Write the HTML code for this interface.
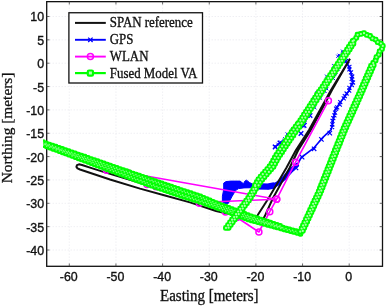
<!DOCTYPE html>
<html><head><meta charset="utf-8"><title>Trajectory plot</title>
<style>html,body{margin:0;padding:0;background:#fff;overflow:hidden}svg{display:block}</style>
</head><body>
<svg width="387" height="306" viewBox="0 0 387 306">
<rect x="0" y="0" width="387" height="306" fill="#fff"/>
<g stroke="#e2e2ea" stroke-width="0.8" stroke-dasharray="1 2" fill="none">
<line x1="69.30" y1="1.65" x2="69.30" y2="266.3"/>
<line x1="115.95" y1="1.65" x2="115.95" y2="266.3"/>
<line x1="162.60" y1="1.65" x2="162.60" y2="266.3"/>
<line x1="209.25" y1="1.65" x2="209.25" y2="266.3"/>
<line x1="255.90" y1="1.65" x2="255.90" y2="266.3"/>
<line x1="302.55" y1="1.65" x2="302.55" y2="266.3"/>
<line x1="349.20" y1="1.65" x2="349.20" y2="266.3"/>
<line x1="46.7" y1="250.00" x2="382.5" y2="250.00"/>
<line x1="46.7" y1="226.65" x2="382.5" y2="226.65"/>
<line x1="46.7" y1="203.30" x2="382.5" y2="203.30"/>
<line x1="46.7" y1="179.95" x2="382.5" y2="179.95"/>
<line x1="46.7" y1="156.60" x2="382.5" y2="156.60"/>
<line x1="46.7" y1="133.25" x2="382.5" y2="133.25"/>
<line x1="46.7" y1="109.90" x2="382.5" y2="109.90"/>
<line x1="46.7" y1="86.55" x2="382.5" y2="86.55"/>
<line x1="46.7" y1="63.20" x2="382.5" y2="63.20"/>
<line x1="46.7" y1="39.85" x2="382.5" y2="39.85"/>
<line x1="46.7" y1="16.50" x2="382.5" y2="16.50"/>
</g>
<clipPath id="c"><rect x="46.7" y="1.65" width="335.8" height="264.65000000000003"/></clipPath>
<clipPath id="c2"><rect x="43.1" y="1.6" width="343.6" height="264.7"/></clipPath>
<rect x="46.7" y="1.65" width="335.8" height="264.65000000000003" fill="none" stroke="#111" stroke-width="1.3"/>
<g stroke="#444" stroke-width="0.8">
<line x1="69.30" y1="266.3" x2="69.30" y2="263.5"/>
<line x1="69.30" y1="1.65" x2="69.30" y2="4.449999999999999"/>
<line x1="115.95" y1="266.3" x2="115.95" y2="263.5"/>
<line x1="115.95" y1="1.65" x2="115.95" y2="4.449999999999999"/>
<line x1="162.60" y1="266.3" x2="162.60" y2="263.5"/>
<line x1="162.60" y1="1.65" x2="162.60" y2="4.449999999999999"/>
<line x1="209.25" y1="266.3" x2="209.25" y2="263.5"/>
<line x1="209.25" y1="1.65" x2="209.25" y2="4.449999999999999"/>
<line x1="255.90" y1="266.3" x2="255.90" y2="263.5"/>
<line x1="255.90" y1="1.65" x2="255.90" y2="4.449999999999999"/>
<line x1="302.55" y1="266.3" x2="302.55" y2="263.5"/>
<line x1="302.55" y1="1.65" x2="302.55" y2="4.449999999999999"/>
<line x1="349.20" y1="266.3" x2="349.20" y2="263.5"/>
<line x1="349.20" y1="1.65" x2="349.20" y2="4.449999999999999"/>
<line x1="46.7" y1="250.00" x2="49.5" y2="250.00"/>
<line x1="382.5" y1="250.00" x2="379.7" y2="250.00"/>
<line x1="46.7" y1="226.65" x2="49.5" y2="226.65"/>
<line x1="382.5" y1="226.65" x2="379.7" y2="226.65"/>
<line x1="46.7" y1="203.30" x2="49.5" y2="203.30"/>
<line x1="382.5" y1="203.30" x2="379.7" y2="203.30"/>
<line x1="46.7" y1="179.95" x2="49.5" y2="179.95"/>
<line x1="382.5" y1="179.95" x2="379.7" y2="179.95"/>
<line x1="46.7" y1="156.60" x2="49.5" y2="156.60"/>
<line x1="382.5" y1="156.60" x2="379.7" y2="156.60"/>
<line x1="46.7" y1="133.25" x2="49.5" y2="133.25"/>
<line x1="382.5" y1="133.25" x2="379.7" y2="133.25"/>
<line x1="46.7" y1="109.90" x2="49.5" y2="109.90"/>
<line x1="382.5" y1="109.90" x2="379.7" y2="109.90"/>
<line x1="46.7" y1="86.55" x2="49.5" y2="86.55"/>
<line x1="382.5" y1="86.55" x2="379.7" y2="86.55"/>
<line x1="46.7" y1="63.20" x2="49.5" y2="63.20"/>
<line x1="382.5" y1="63.20" x2="379.7" y2="63.20"/>
<line x1="46.7" y1="39.85" x2="49.5" y2="39.85"/>
<line x1="382.5" y1="39.85" x2="379.7" y2="39.85"/>
<line x1="46.7" y1="16.50" x2="49.5" y2="16.50"/>
<line x1="382.5" y1="16.50" x2="379.7" y2="16.50"/>
</g>
<g clip-path="url(#c)">
<polyline points="345.0,51.0 341.0,57.0 332.2,74.0 321.6,90.0 311.0,107.0 300.0,125.0 293.0,134.0 287.0,139.0 281.0,142.0 274.8,146.7" fill="none" stroke="#0000ff" stroke-width="1.4"/>
<path d="M341.0,49.6L344.2,52.8M341.0,52.8L344.2,49.6M341.3,51.1L344.5,54.3M341.3,54.3L344.5,51.1M342.8,50.3L346.0,53.5M342.8,53.5L346.0,50.3M336.3,54.7L339.5,57.9M336.3,57.9L339.5,54.7M337.6,53.7L340.8,56.9M337.6,56.9L340.8,53.7M343.6,56.0L346.8,59.2M343.6,59.2L346.8,56.0M341.4,57.4L344.6,60.6M341.4,60.6L344.6,57.4M338.8,57.5L342.0,60.7M338.8,60.7L342.0,57.5M338.1,61.8L341.3,65.0M338.1,65.0L341.3,61.8M336.3,62.7L339.5,65.9M336.3,65.9L339.5,62.7M336.9,61.5L340.1,64.7M336.9,64.7L340.1,61.5M337.0,65.0L340.2,68.2M337.0,68.2L340.2,65.0M332.1,64.2L335.3,67.4M332.1,67.4L335.3,64.2M336.5,67.4L339.7,70.6M336.5,70.6L339.7,67.4M334.4,70.4L337.6,73.6M334.4,73.6L337.6,70.4M333.7,72.0L336.9,75.2M333.7,75.2L336.9,72.0M330.0,72.9L333.2,76.1M330.0,76.1L333.2,72.9M329.6,74.8L332.8,78.0M329.6,78.0L332.8,74.8M332.7,72.8L335.9,76.0M332.7,76.0L335.9,72.8M325.0,74.6L328.2,77.8M325.0,77.8L328.2,74.6M331.8,76.9L335.0,80.1M331.8,80.1L335.0,76.9M327.6,77.6L330.8,80.8M327.6,80.8L330.8,77.6M325.8,79.3L329.0,82.5M325.8,82.5L329.0,79.3M323.7,81.4L326.9,84.6M323.7,84.6L326.9,81.4M324.6,84.1L327.8,87.3M324.6,87.3L327.8,84.1M324.5,85.5L327.7,88.7M324.5,88.7L327.7,85.5M325.0,87.1L328.2,90.3M325.0,90.3L328.2,87.1M322.6,85.1L325.8,88.3M322.6,88.3L325.8,85.1M323.2,89.6L326.4,92.8M323.2,92.8L326.4,89.6M322.7,89.4L325.9,92.6M322.7,92.6L325.9,89.4M320.4,89.3L323.6,92.5M320.4,92.5L323.6,89.3M320.4,92.1L323.6,95.3M320.4,95.3L323.6,92.1M315.3,91.5L318.5,94.7M315.3,94.7L318.5,91.5M318.9,96.5L322.1,99.7M318.9,99.7L322.1,96.5M312.1,97.1L315.3,100.3M312.1,100.3L315.3,97.1M313.8,95.9L317.0,99.1M313.8,99.1L317.0,95.9M312.0,99.7L315.2,102.9M312.0,102.9L315.2,99.7M315.7,98.2L318.9,101.4M315.7,101.4L318.9,98.2M312.8,99.5L316.0,102.7M312.8,102.7L316.0,99.5M312.8,102.0L316.0,105.2M312.8,105.2L316.0,102.0M313.2,106.0L316.4,109.2M313.2,109.2L316.4,106.0M309.4,107.4L312.6,110.6M309.4,110.6L312.6,107.4M307.1,105.1L310.3,108.3M307.1,108.3L310.3,105.1M308.5,106.3L311.7,109.5M308.5,109.5L311.7,106.3M304.5,109.1L307.7,112.3M304.5,112.3L307.7,109.1M306.9,109.5L310.1,112.7M306.9,112.7L310.1,109.5M301.6,113.7L304.8,116.9M301.6,116.9L304.8,113.7M302.9,115.4L306.1,118.6M302.9,118.6L306.1,115.4M306.7,114.5L309.9,117.7M306.7,117.7L309.9,114.5M302.4,116.4L305.6,119.6M302.4,119.6L305.6,116.4M303.0,118.1L306.2,121.3M303.0,121.3L306.2,118.1M301.5,119.5L304.7,122.7M301.5,122.7L304.7,119.5M303.7,120.5L306.9,123.7M303.7,123.7L306.9,120.5M298.8,122.7L302.0,125.9M298.8,125.9L302.0,122.7M296.5,122.4L299.7,125.6M296.5,125.6L299.7,122.4M301.3,124.5L304.5,127.7M301.3,127.7L304.5,124.5M297.0,123.8L300.2,127.0M297.0,127.0L300.2,123.8M295.0,127.3L298.2,130.5M295.0,130.5L298.2,127.3M290.9,128.7L294.1,131.9M290.9,131.9L294.1,128.7M294.7,127.7L297.9,130.9M294.7,130.9L297.9,127.7M293.7,130.6L296.9,133.8M293.7,133.8L296.9,130.6M293.1,131.4L296.3,134.6M293.1,134.6L296.3,131.4M292.2,134.1L295.4,137.3M292.2,137.3L295.4,134.1M285.6,132.4L288.8,135.6M285.6,135.6L288.8,132.4M289.5,137.0L292.7,140.2M289.5,140.2L292.7,137.0M284.9,136.0L288.1,139.2M284.9,139.2L288.1,136.0M286.3,136.5L289.5,139.7M286.3,139.7L289.5,136.5M283.2,137.2L286.4,140.4M283.2,140.4L286.4,137.2M285.4,137.4L288.6,140.6M285.4,140.6L288.6,137.4M282.3,139.0L285.5,142.2M282.3,142.2L285.5,139.0M279.2,140.6L282.4,143.8M279.2,143.8L282.4,140.6M276.4,142.7L279.6,145.9M276.4,145.9L279.6,142.7M273.6,144.8L276.8,148.0M273.6,148.0L276.8,144.8" stroke="#0000ff" stroke-width="1.0" fill="none"/>
<polyline points="285.0,140.5 280.0,143.0 275.2,147.0" fill="none" stroke="#0000ff" stroke-width="1.4"/>
<path d="M298.7,131.2L303.3,135.8M298.7,135.8L303.3,131.2M301.7,123.2L306.3,127.8M301.7,127.8L306.3,123.2M307.7,113.2L312.3,117.8M307.7,117.8L312.3,113.2M277.7,140.7L282.3,145.3M277.7,145.3L282.3,140.7M272.9,144.7L277.5,149.3M272.9,149.3L277.5,144.7" stroke="#0000ff" stroke-width="1.4" fill="none"/>
<polyline points="341.0,57.0 347.5,63.6 351.4,74.0 352.7,81.9 348.8,91.0 341.0,101.5 335.2,109.4 333.6,118.5 331.2,129.6 322.9,137.4 313.6,148.2 301.2,157.5 295.6,168.0 287.1,176.7 279.2,183.0 271.4,186.9 255.7,186.9 246.0,184.0" fill="none" stroke="#0000ff" stroke-width="1.6"/>
<path d="M338.7,54.7L342.7,58.7M338.7,58.7L342.7,54.7M341.8,57.2L345.8,61.2M341.8,61.2L345.8,57.2M344.1,59.0L348.1,63.0M344.1,63.0L348.1,59.0M345.4,62.2L349.4,66.2M345.4,66.2L349.4,62.2M347.4,64.8L351.4,68.8M347.4,68.8L351.4,64.8M347.4,67.3L351.4,71.3M347.4,71.3L351.4,67.3M349.0,70.4L353.0,74.4M349.0,74.4L353.0,70.4M350.2,74.5L354.2,78.5M350.2,78.5L354.2,74.5M349.7,76.8L353.7,80.8M349.7,80.8L353.7,76.8M351.0,80.5L355.0,84.5M351.0,84.5L355.0,80.5M349.8,83.0L353.8,87.0M349.8,87.0L353.8,83.0M347.4,85.8L351.4,89.8M347.4,89.8L351.4,85.8M347.2,88.7L351.2,92.7M347.2,92.7L351.2,88.7M344.6,91.5L348.6,95.5M344.6,95.5L348.6,91.5M342.8,94.1L346.8,98.1M342.8,98.1L346.8,94.1M341.7,96.3L345.7,100.3M341.7,100.3L345.7,96.3M338.3,100.1L342.3,104.1M338.3,104.1L342.3,100.1M337.8,102.7L341.8,106.7M337.8,106.7L341.8,102.7M335.2,105.3L339.2,109.3M335.2,109.3L339.2,105.3M334.1,106.7L338.1,110.7M334.1,110.7L338.1,106.7M333.1,110.7L337.1,114.7M333.1,114.7L337.1,110.7M332.4,113.4L336.4,117.4M332.4,117.4L336.4,113.4M331.3,116.2L335.3,120.2M331.3,120.2L335.3,116.2M330.5,118.9L334.5,122.9M330.5,122.9L334.5,118.9M330.4,122.4L334.4,126.4M330.4,126.4L334.4,122.4M330.1,125.2L334.1,129.2M330.1,129.2L334.1,125.2" stroke="#0000ff" stroke-width="1.1" fill="none"/>
<path d="M327.6,130.9L332.0,135.3M327.6,135.3L332.0,130.9M319.2,137.2L323.6,141.6M319.2,141.6L323.6,137.2M311.9,146.6L316.3,151.0M311.9,151.0L316.3,146.6M299.9,155.0L304.3,159.4M299.9,159.4L304.3,155.0M293.8,165.8L298.2,170.2M293.8,170.2L298.2,165.8" stroke="#0000ff" stroke-width="1.2" fill="none"/>
<polyline points="255.0,186.2 268.0,186.6 273.0,185.6" fill="none" stroke="#0000ff" stroke-width="6.4" stroke-linejoin="round" stroke-linecap="round"/>
<polyline points="268.0,187.0 274.0,185.8 279.0,182.6 284.5,177.8 290.5,170.5 296.8,165.2" fill="none" stroke="#0000ff" stroke-width="4.6" stroke-linejoin="round" stroke-linecap="round"/>
<polygon points="223.7,183.1 226.0,181.6 230.9,181.1 240.1,181.1 243.4,183.7 245.0,181.0 246.6,180.2 249.3,182.4 252.5,184.1 256.0,185.0 256.0,188.0 252.5,187.7 244.0,187.9 238.5,188.6 235.5,190.6 232.0,196.5 228.3,203.4 225.0,203.5 222.4,202.1 222.4,196.2 223.7,189.6" fill="#0000ff" stroke="#0000ff" stroke-width="1" stroke-linejoin="round"/>
</g>
<polyline clip-path="url(#c)" points="350.0,58.8 331.0,90.0 309.0,130.0 296.0,150.0 286.3,168.0 268.7,198.0 257.6,215.2 256.0,217.5 240.0,213.0 200.0,201.0 150.0,185.8 105.0,172.4 92.4,168.4 82.0,165.0 79.0,164.3 77.0,165.2 76.4,166.8 77.5,168.3 80.0,169.5 110.0,179.5 140.0,188.6 165.0,195.5 190.0,202.4 216.0,211.0 240.0,216.5 262.0,221.5 265.2,215.2 273.0,198.0 289.5,168.0 298.3,150.0 310.8,130.0 332.0,90.0 350.0,58.8" fill="none" stroke="#111" stroke-width="2" stroke-linejoin="round"/>
<g clip-path="url(#c)">
<polyline points="328.4,100.8 295.6,162.2 276.7,199.2 128.0,172.7 106.5,170.3 147.0,184.4 156.0,186.8 199.4,203.3 210.0,202.0 276.7,199.2 269.8,211.7 258.9,232.0 237.0,217.5 225.5,212.0" fill="none" stroke="#ff00ff" stroke-width="1.6" stroke-linejoin="round"/>
<circle cx="328.4" cy="100.8" r="3" fill="none" stroke="#ff00ff" stroke-width="1.5"/>
<circle cx="295.6" cy="162.2" r="3" fill="none" stroke="#ff00ff" stroke-width="1.5"/>
<circle cx="276.7" cy="199.2" r="3" fill="none" stroke="#ff00ff" stroke-width="1.5"/>
<circle cx="128.0" cy="172.7" r="3" fill="none" stroke="#ff00ff" stroke-width="1.5"/>
<circle cx="106.5" cy="170.3" r="3" fill="none" stroke="#ff00ff" stroke-width="1.5"/>
<circle cx="147.0" cy="184.4" r="3" fill="none" stroke="#ff00ff" stroke-width="1.5"/>
<circle cx="156.0" cy="186.8" r="3" fill="none" stroke="#ff00ff" stroke-width="1.5"/>
<circle cx="199.4" cy="203.3" r="3" fill="none" stroke="#ff00ff" stroke-width="1.5"/>
<circle cx="210.0" cy="202.0" r="3" fill="none" stroke="#ff00ff" stroke-width="1.5"/>
<circle cx="276.7" cy="199.2" r="3" fill="none" stroke="#ff00ff" stroke-width="1.5"/>
<circle cx="269.8" cy="211.7" r="3" fill="none" stroke="#ff00ff" stroke-width="1.5"/>
<circle cx="258.9" cy="232.0" r="3" fill="none" stroke="#ff00ff" stroke-width="1.5"/>
<circle cx="237.0" cy="217.5" r="3" fill="none" stroke="#ff00ff" stroke-width="1.5"/>
<circle cx="225.5" cy="212.0" r="3" fill="none" stroke="#ff00ff" stroke-width="1.5"/>
</g>
<g clip-path="url(#c2)">
<polyline points="281.2,227.6 249.8,217.3 214.8,204.0 199.8,197.6 179.8,190.9 149.8,180.7 139.8,177.3 46.8,145.0 39.8,142.4" fill="none" stroke="#00ff00" stroke-width="1.8" stroke-linejoin="round"/>
<rect x="279.3" y="225.7" width="3.9" height="3.9" rx="1.2" fill="#00ff00" stroke="#00ff00" stroke-width="1.9"/>
<rect x="276.0" y="224.6" width="3.9" height="3.9" rx="1.2" fill="#00ff00" stroke="#00ff00" stroke-width="1.9"/>
<rect x="272.8" y="223.5" width="3.9" height="3.9" rx="1.2" fill="#00ff00" stroke="#00ff00" stroke-width="1.9"/>
<rect x="269.6" y="222.5" width="3.9" height="3.9" rx="1.2" fill="#00ff00" stroke="#00ff00" stroke-width="1.9"/>
<rect x="266.3" y="221.4" width="3.9" height="3.9" rx="1.2" fill="#00ff00" stroke="#00ff00" stroke-width="1.9"/>
<rect x="263.1" y="220.3" width="3.9" height="3.9" rx="1.2" fill="#00ff00" stroke="#00ff00" stroke-width="1.9"/>
<rect x="259.9" y="219.3" width="3.9" height="3.9" rx="1.2" fill="#00ff00" stroke="#00ff00" stroke-width="1.9"/>
<rect x="256.7" y="218.2" width="3.9" height="3.9" rx="1.2" fill="#00ff00" stroke="#00ff00" stroke-width="1.9"/>
<rect x="253.4" y="217.2" width="3.9" height="3.9" rx="1.2" fill="#00ff00" stroke="#00ff00" stroke-width="1.9"/>
<rect x="250.2" y="216.1" width="3.9" height="3.9" rx="1.2" fill="#00ff00" stroke="#00ff00" stroke-width="1.9"/>
<rect x="247.0" y="215.0" width="3.9" height="3.9" rx="1.2" fill="#00ff00" stroke="#00ff00" stroke-width="1.9"/>
<rect x="243.8" y="213.8" width="3.9" height="3.9" rx="1.2" fill="#00ff00" stroke="#00ff00" stroke-width="1.9"/>
<rect x="240.6" y="212.6" width="3.9" height="3.9" rx="1.2" fill="#00ff00" stroke="#00ff00" stroke-width="1.9"/>
<rect x="237.5" y="211.4" width="3.9" height="3.9" rx="1.2" fill="#00ff00" stroke="#00ff00" stroke-width="1.9"/>
<rect x="234.3" y="210.2" width="3.9" height="3.9" rx="1.2" fill="#00ff00" stroke="#00ff00" stroke-width="1.9"/>
<rect x="231.1" y="208.9" width="3.9" height="3.9" rx="1.2" fill="#00ff00" stroke="#00ff00" stroke-width="1.9"/>
<rect x="227.9" y="207.7" width="3.9" height="3.9" rx="1.2" fill="#00ff00" stroke="#00ff00" stroke-width="1.9"/>
<rect x="224.7" y="206.5" width="3.9" height="3.9" rx="1.2" fill="#00ff00" stroke="#00ff00" stroke-width="1.9"/>
<rect x="221.6" y="205.3" width="3.9" height="3.9" rx="1.2" fill="#00ff00" stroke="#00ff00" stroke-width="1.9"/>
<rect x="218.4" y="204.1" width="3.9" height="3.9" rx="1.2" fill="#00ff00" stroke="#00ff00" stroke-width="1.9"/>
<rect x="215.2" y="202.9" width="3.9" height="3.9" rx="1.2" fill="#00ff00" stroke="#00ff00" stroke-width="1.9"/>
<rect x="212.0" y="201.7" width="3.9" height="3.9" rx="1.2" fill="#00ff00" stroke="#00ff00" stroke-width="1.9"/>
<rect x="208.9" y="200.3" width="3.9" height="3.9" rx="1.2" fill="#00ff00" stroke="#00ff00" stroke-width="1.9"/>
<rect x="205.8" y="199.0" width="3.9" height="3.9" rx="1.2" fill="#00ff00" stroke="#00ff00" stroke-width="1.9"/>
<rect x="202.7" y="197.7" width="3.9" height="3.9" rx="1.2" fill="#00ff00" stroke="#00ff00" stroke-width="1.9"/>
<rect x="199.5" y="196.3" width="3.9" height="3.9" rx="1.2" fill="#00ff00" stroke="#00ff00" stroke-width="1.9"/>
<rect x="196.4" y="195.1" width="3.9" height="3.9" rx="1.2" fill="#00ff00" stroke="#00ff00" stroke-width="1.9"/>
<rect x="193.1" y="194.0" width="3.9" height="3.9" rx="1.2" fill="#00ff00" stroke="#00ff00" stroke-width="1.9"/>
<rect x="189.9" y="193.0" width="3.9" height="3.9" rx="1.2" fill="#00ff00" stroke="#00ff00" stroke-width="1.9"/>
<rect x="186.7" y="191.9" width="3.9" height="3.9" rx="1.2" fill="#00ff00" stroke="#00ff00" stroke-width="1.9"/>
<rect x="183.4" y="190.8" width="3.9" height="3.9" rx="1.2" fill="#00ff00" stroke="#00ff00" stroke-width="1.9"/>
<rect x="180.2" y="189.8" width="3.9" height="3.9" rx="1.2" fill="#00ff00" stroke="#00ff00" stroke-width="1.9"/>
<rect x="177.0" y="188.7" width="3.9" height="3.9" rx="1.2" fill="#00ff00" stroke="#00ff00" stroke-width="1.9"/>
<rect x="173.8" y="187.6" width="3.9" height="3.9" rx="1.2" fill="#00ff00" stroke="#00ff00" stroke-width="1.9"/>
<rect x="170.6" y="186.5" width="3.9" height="3.9" rx="1.2" fill="#00ff00" stroke="#00ff00" stroke-width="1.9"/>
<rect x="167.3" y="185.4" width="3.9" height="3.9" rx="1.2" fill="#00ff00" stroke="#00ff00" stroke-width="1.9"/>
<rect x="164.1" y="184.3" width="3.9" height="3.9" rx="1.2" fill="#00ff00" stroke="#00ff00" stroke-width="1.9"/>
<rect x="160.9" y="183.2" width="3.9" height="3.9" rx="1.2" fill="#00ff00" stroke="#00ff00" stroke-width="1.9"/>
<rect x="157.7" y="182.1" width="3.9" height="3.9" rx="1.2" fill="#00ff00" stroke="#00ff00" stroke-width="1.9"/>
<rect x="154.5" y="181.0" width="3.9" height="3.9" rx="1.2" fill="#00ff00" stroke="#00ff00" stroke-width="1.9"/>
<rect x="151.2" y="179.9" width="3.9" height="3.9" rx="1.2" fill="#00ff00" stroke="#00ff00" stroke-width="1.9"/>
<rect x="148.0" y="178.8" width="3.9" height="3.9" rx="1.2" fill="#00ff00" stroke="#00ff00" stroke-width="1.9"/>
<rect x="144.8" y="177.7" width="3.9" height="3.9" rx="1.2" fill="#00ff00" stroke="#00ff00" stroke-width="1.9"/>
<rect x="141.6" y="176.6" width="3.9" height="3.9" rx="1.2" fill="#00ff00" stroke="#00ff00" stroke-width="1.9"/>
<rect x="138.4" y="175.5" width="3.9" height="3.9" rx="1.2" fill="#00ff00" stroke="#00ff00" stroke-width="1.9"/>
<rect x="135.2" y="174.4" width="3.9" height="3.9" rx="1.2" fill="#00ff00" stroke="#00ff00" stroke-width="1.9"/>
<rect x="132.0" y="173.3" width="3.9" height="3.9" rx="1.2" fill="#00ff00" stroke="#00ff00" stroke-width="1.9"/>
<rect x="128.7" y="172.2" width="3.9" height="3.9" rx="1.2" fill="#00ff00" stroke="#00ff00" stroke-width="1.9"/>
<rect x="125.5" y="171.0" width="3.9" height="3.9" rx="1.2" fill="#00ff00" stroke="#00ff00" stroke-width="1.9"/>
<rect x="122.3" y="169.9" width="3.9" height="3.9" rx="1.2" fill="#00ff00" stroke="#00ff00" stroke-width="1.9"/>
<rect x="119.1" y="168.8" width="3.9" height="3.9" rx="1.2" fill="#00ff00" stroke="#00ff00" stroke-width="1.9"/>
<rect x="115.9" y="167.7" width="3.9" height="3.9" rx="1.2" fill="#00ff00" stroke="#00ff00" stroke-width="1.9"/>
<rect x="112.7" y="166.6" width="3.9" height="3.9" rx="1.2" fill="#00ff00" stroke="#00ff00" stroke-width="1.9"/>
<rect x="109.5" y="165.5" width="3.9" height="3.9" rx="1.2" fill="#00ff00" stroke="#00ff00" stroke-width="1.9"/>
<rect x="106.3" y="164.3" width="3.9" height="3.9" rx="1.2" fill="#00ff00" stroke="#00ff00" stroke-width="1.9"/>
<rect x="103.1" y="163.2" width="3.9" height="3.9" rx="1.2" fill="#00ff00" stroke="#00ff00" stroke-width="1.9"/>
<rect x="99.8" y="162.1" width="3.9" height="3.9" rx="1.2" fill="#00ff00" stroke="#00ff00" stroke-width="1.9"/>
<rect x="96.6" y="161.0" width="3.9" height="3.9" rx="1.2" fill="#00ff00" stroke="#00ff00" stroke-width="1.9"/>
<rect x="93.4" y="159.9" width="3.9" height="3.9" rx="1.2" fill="#00ff00" stroke="#00ff00" stroke-width="1.9"/>
<rect x="90.2" y="158.8" width="3.9" height="3.9" rx="1.2" fill="#00ff00" stroke="#00ff00" stroke-width="1.9"/>
<rect x="87.0" y="157.7" width="3.9" height="3.9" rx="1.2" fill="#00ff00" stroke="#00ff00" stroke-width="1.9"/>
<rect x="83.8" y="156.5" width="3.9" height="3.9" rx="1.2" fill="#00ff00" stroke="#00ff00" stroke-width="1.9"/>
<rect x="80.6" y="155.4" width="3.9" height="3.9" rx="1.2" fill="#00ff00" stroke="#00ff00" stroke-width="1.9"/>
<rect x="77.4" y="154.3" width="3.9" height="3.9" rx="1.2" fill="#00ff00" stroke="#00ff00" stroke-width="1.9"/>
<rect x="74.1" y="153.2" width="3.9" height="3.9" rx="1.2" fill="#00ff00" stroke="#00ff00" stroke-width="1.9"/>
<rect x="70.9" y="152.1" width="3.9" height="3.9" rx="1.2" fill="#00ff00" stroke="#00ff00" stroke-width="1.9"/>
<rect x="67.7" y="151.0" width="3.9" height="3.9" rx="1.2" fill="#00ff00" stroke="#00ff00" stroke-width="1.9"/>
<rect x="64.5" y="149.8" width="3.9" height="3.9" rx="1.2" fill="#00ff00" stroke="#00ff00" stroke-width="1.9"/>
<rect x="61.3" y="148.7" width="3.9" height="3.9" rx="1.2" fill="#00ff00" stroke="#00ff00" stroke-width="1.9"/>
<rect x="58.1" y="147.6" width="3.9" height="3.9" rx="1.2" fill="#00ff00" stroke="#00ff00" stroke-width="1.9"/>
<rect x="54.9" y="146.5" width="3.9" height="3.9" rx="1.2" fill="#00ff00" stroke="#00ff00" stroke-width="1.9"/>
<rect x="51.7" y="145.4" width="3.9" height="3.9" rx="1.2" fill="#00ff00" stroke="#00ff00" stroke-width="1.9"/>
<rect x="48.5" y="144.3" width="3.9" height="3.9" rx="1.2" fill="#00ff00" stroke="#00ff00" stroke-width="1.9"/>
<rect x="45.2" y="143.2" width="3.9" height="3.9" rx="1.2" fill="#00ff00" stroke="#00ff00" stroke-width="1.9"/>
<rect x="42.1" y="142.0" width="3.9" height="3.9" rx="1.2" fill="#00ff00" stroke="#00ff00" stroke-width="1.9"/>
<rect x="38.9" y="140.8" width="3.9" height="3.9" rx="1.2" fill="#00ff00" stroke="#00ff00" stroke-width="1.9"/>
<polyline points="281.6,226.5 250.2,216.1 215.2,202.8 200.2,196.4 180.2,189.8 150.2,179.6 140.2,176.1 47.2,143.8 40.2,141.2" fill="none" stroke="#00ff00" stroke-width="1.8" stroke-linejoin="round"/>
<rect x="278.0" y="224.0" width="3.9" height="3.9" rx="1.2" fill="#00ff00" stroke="#00ff00" stroke-width="1.9"/>
<rect x="274.8" y="222.9" width="3.9" height="3.9" rx="1.2" fill="#00ff00" stroke="#00ff00" stroke-width="1.9"/>
<rect x="271.6" y="221.9" width="3.9" height="3.9" rx="1.2" fill="#00ff00" stroke="#00ff00" stroke-width="1.9"/>
<rect x="268.3" y="220.8" width="3.9" height="3.9" rx="1.2" fill="#00ff00" stroke="#00ff00" stroke-width="1.9"/>
<rect x="265.1" y="219.7" width="3.9" height="3.9" rx="1.2" fill="#00ff00" stroke="#00ff00" stroke-width="1.9"/>
<rect x="261.9" y="218.7" width="3.9" height="3.9" rx="1.2" fill="#00ff00" stroke="#00ff00" stroke-width="1.9"/>
<rect x="258.6" y="217.6" width="3.9" height="3.9" rx="1.2" fill="#00ff00" stroke="#00ff00" stroke-width="1.9"/>
<rect x="255.4" y="216.5" width="3.9" height="3.9" rx="1.2" fill="#00ff00" stroke="#00ff00" stroke-width="1.9"/>
<rect x="252.2" y="215.5" width="3.9" height="3.9" rx="1.2" fill="#00ff00" stroke="#00ff00" stroke-width="1.9"/>
<rect x="249.0" y="214.4" width="3.9" height="3.9" rx="1.2" fill="#00ff00" stroke="#00ff00" stroke-width="1.9"/>
<rect x="245.8" y="213.2" width="3.9" height="3.9" rx="1.2" fill="#00ff00" stroke="#00ff00" stroke-width="1.9"/>
<rect x="242.6" y="212.0" width="3.9" height="3.9" rx="1.2" fill="#00ff00" stroke="#00ff00" stroke-width="1.9"/>
<rect x="239.4" y="210.8" width="3.9" height="3.9" rx="1.2" fill="#00ff00" stroke="#00ff00" stroke-width="1.9"/>
<rect x="236.2" y="209.6" width="3.9" height="3.9" rx="1.2" fill="#00ff00" stroke="#00ff00" stroke-width="1.9"/>
<rect x="233.1" y="208.4" width="3.9" height="3.9" rx="1.2" fill="#00ff00" stroke="#00ff00" stroke-width="1.9"/>
<rect x="229.9" y="207.2" width="3.9" height="3.9" rx="1.2" fill="#00ff00" stroke="#00ff00" stroke-width="1.9"/>
<rect x="226.7" y="206.0" width="3.9" height="3.9" rx="1.2" fill="#00ff00" stroke="#00ff00" stroke-width="1.9"/>
<rect x="223.5" y="204.8" width="3.9" height="3.9" rx="1.2" fill="#00ff00" stroke="#00ff00" stroke-width="1.9"/>
<rect x="220.3" y="203.6" width="3.9" height="3.9" rx="1.2" fill="#00ff00" stroke="#00ff00" stroke-width="1.9"/>
<rect x="217.2" y="202.4" width="3.9" height="3.9" rx="1.2" fill="#00ff00" stroke="#00ff00" stroke-width="1.9"/>
<rect x="214.0" y="201.2" width="3.9" height="3.9" rx="1.2" fill="#00ff00" stroke="#00ff00" stroke-width="1.9"/>
<rect x="210.9" y="199.9" width="3.9" height="3.9" rx="1.2" fill="#00ff00" stroke="#00ff00" stroke-width="1.9"/>
<rect x="207.7" y="198.5" width="3.9" height="3.9" rx="1.2" fill="#00ff00" stroke="#00ff00" stroke-width="1.9"/>
<rect x="204.6" y="197.2" width="3.9" height="3.9" rx="1.2" fill="#00ff00" stroke="#00ff00" stroke-width="1.9"/>
<rect x="201.5" y="195.9" width="3.9" height="3.9" rx="1.2" fill="#00ff00" stroke="#00ff00" stroke-width="1.9"/>
<rect x="198.3" y="194.5" width="3.9" height="3.9" rx="1.2" fill="#00ff00" stroke="#00ff00" stroke-width="1.9"/>
<rect x="195.1" y="193.4" width="3.9" height="3.9" rx="1.2" fill="#00ff00" stroke="#00ff00" stroke-width="1.9"/>
<rect x="191.9" y="192.4" width="3.9" height="3.9" rx="1.2" fill="#00ff00" stroke="#00ff00" stroke-width="1.9"/>
<rect x="188.7" y="191.3" width="3.9" height="3.9" rx="1.2" fill="#00ff00" stroke="#00ff00" stroke-width="1.9"/>
<rect x="185.4" y="190.2" width="3.9" height="3.9" rx="1.2" fill="#00ff00" stroke="#00ff00" stroke-width="1.9"/>
<rect x="182.2" y="189.2" width="3.9" height="3.9" rx="1.2" fill="#00ff00" stroke="#00ff00" stroke-width="1.9"/>
<rect x="179.0" y="188.1" width="3.9" height="3.9" rx="1.2" fill="#00ff00" stroke="#00ff00" stroke-width="1.9"/>
<rect x="175.8" y="187.0" width="3.9" height="3.9" rx="1.2" fill="#00ff00" stroke="#00ff00" stroke-width="1.9"/>
<rect x="172.5" y="185.9" width="3.9" height="3.9" rx="1.2" fill="#00ff00" stroke="#00ff00" stroke-width="1.9"/>
<rect x="169.3" y="184.8" width="3.9" height="3.9" rx="1.2" fill="#00ff00" stroke="#00ff00" stroke-width="1.9"/>
<rect x="166.1" y="183.7" width="3.9" height="3.9" rx="1.2" fill="#00ff00" stroke="#00ff00" stroke-width="1.9"/>
<rect x="162.9" y="182.6" width="3.9" height="3.9" rx="1.2" fill="#00ff00" stroke="#00ff00" stroke-width="1.9"/>
<rect x="159.7" y="181.5" width="3.9" height="3.9" rx="1.2" fill="#00ff00" stroke="#00ff00" stroke-width="1.9"/>
<rect x="156.5" y="180.4" width="3.9" height="3.9" rx="1.2" fill="#00ff00" stroke="#00ff00" stroke-width="1.9"/>
<rect x="153.2" y="179.3" width="3.9" height="3.9" rx="1.2" fill="#00ff00" stroke="#00ff00" stroke-width="1.9"/>
<rect x="150.0" y="178.2" width="3.9" height="3.9" rx="1.2" fill="#00ff00" stroke="#00ff00" stroke-width="1.9"/>
<rect x="146.8" y="177.1" width="3.9" height="3.9" rx="1.2" fill="#00ff00" stroke="#00ff00" stroke-width="1.9"/>
<rect x="143.6" y="176.0" width="3.9" height="3.9" rx="1.2" fill="#00ff00" stroke="#00ff00" stroke-width="1.9"/>
<rect x="140.4" y="174.9" width="3.9" height="3.9" rx="1.2" fill="#00ff00" stroke="#00ff00" stroke-width="1.9"/>
<rect x="137.2" y="173.8" width="3.9" height="3.9" rx="1.2" fill="#00ff00" stroke="#00ff00" stroke-width="1.9"/>
<rect x="133.9" y="172.7" width="3.9" height="3.9" rx="1.2" fill="#00ff00" stroke="#00ff00" stroke-width="1.9"/>
<rect x="130.7" y="171.6" width="3.9" height="3.9" rx="1.2" fill="#00ff00" stroke="#00ff00" stroke-width="1.9"/>
<rect x="127.5" y="170.5" width="3.9" height="3.9" rx="1.2" fill="#00ff00" stroke="#00ff00" stroke-width="1.9"/>
<rect x="124.3" y="169.3" width="3.9" height="3.9" rx="1.2" fill="#00ff00" stroke="#00ff00" stroke-width="1.9"/>
<rect x="121.1" y="168.2" width="3.9" height="3.9" rx="1.2" fill="#00ff00" stroke="#00ff00" stroke-width="1.9"/>
<rect x="117.9" y="167.1" width="3.9" height="3.9" rx="1.2" fill="#00ff00" stroke="#00ff00" stroke-width="1.9"/>
<rect x="114.7" y="166.0" width="3.9" height="3.9" rx="1.2" fill="#00ff00" stroke="#00ff00" stroke-width="1.9"/>
<rect x="111.5" y="164.9" width="3.9" height="3.9" rx="1.2" fill="#00ff00" stroke="#00ff00" stroke-width="1.9"/>
<rect x="108.2" y="163.8" width="3.9" height="3.9" rx="1.2" fill="#00ff00" stroke="#00ff00" stroke-width="1.9"/>
<rect x="105.0" y="162.6" width="3.9" height="3.9" rx="1.2" fill="#00ff00" stroke="#00ff00" stroke-width="1.9"/>
<rect x="101.8" y="161.5" width="3.9" height="3.9" rx="1.2" fill="#00ff00" stroke="#00ff00" stroke-width="1.9"/>
<rect x="98.6" y="160.4" width="3.9" height="3.9" rx="1.2" fill="#00ff00" stroke="#00ff00" stroke-width="1.9"/>
<rect x="95.4" y="159.3" width="3.9" height="3.9" rx="1.2" fill="#00ff00" stroke="#00ff00" stroke-width="1.9"/>
<rect x="92.2" y="158.2" width="3.9" height="3.9" rx="1.2" fill="#00ff00" stroke="#00ff00" stroke-width="1.9"/>
<rect x="89.0" y="157.1" width="3.9" height="3.9" rx="1.2" fill="#00ff00" stroke="#00ff00" stroke-width="1.9"/>
<rect x="85.8" y="156.0" width="3.9" height="3.9" rx="1.2" fill="#00ff00" stroke="#00ff00" stroke-width="1.9"/>
<rect x="82.6" y="154.8" width="3.9" height="3.9" rx="1.2" fill="#00ff00" stroke="#00ff00" stroke-width="1.9"/>
<rect x="79.3" y="153.7" width="3.9" height="3.9" rx="1.2" fill="#00ff00" stroke="#00ff00" stroke-width="1.9"/>
<rect x="76.1" y="152.6" width="3.9" height="3.9" rx="1.2" fill="#00ff00" stroke="#00ff00" stroke-width="1.9"/>
<rect x="72.9" y="151.5" width="3.9" height="3.9" rx="1.2" fill="#00ff00" stroke="#00ff00" stroke-width="1.9"/>
<rect x="69.7" y="150.4" width="3.9" height="3.9" rx="1.2" fill="#00ff00" stroke="#00ff00" stroke-width="1.9"/>
<rect x="66.5" y="149.3" width="3.9" height="3.9" rx="1.2" fill="#00ff00" stroke="#00ff00" stroke-width="1.9"/>
<rect x="63.3" y="148.1" width="3.9" height="3.9" rx="1.2" fill="#00ff00" stroke="#00ff00" stroke-width="1.9"/>
<rect x="60.1" y="147.0" width="3.9" height="3.9" rx="1.2" fill="#00ff00" stroke="#00ff00" stroke-width="1.9"/>
<rect x="56.9" y="145.9" width="3.9" height="3.9" rx="1.2" fill="#00ff00" stroke="#00ff00" stroke-width="1.9"/>
<rect x="53.6" y="144.8" width="3.9" height="3.9" rx="1.2" fill="#00ff00" stroke="#00ff00" stroke-width="1.9"/>
<rect x="50.4" y="143.7" width="3.9" height="3.9" rx="1.2" fill="#00ff00" stroke="#00ff00" stroke-width="1.9"/>
<rect x="47.2" y="142.6" width="3.9" height="3.9" rx="1.2" fill="#00ff00" stroke="#00ff00" stroke-width="1.9"/>
<rect x="44.0" y="141.4" width="3.9" height="3.9" rx="1.2" fill="#00ff00" stroke="#00ff00" stroke-width="1.9"/>
<rect x="40.8" y="140.2" width="3.9" height="3.9" rx="1.2" fill="#00ff00" stroke="#00ff00" stroke-width="1.9"/>
<polyline points="300.4,233.8 281.2,228.5 249.8,219.9 214.8,206.8 199.8,201.6 179.8,195.2 149.8,185.0 139.8,181.3 46.8,146.4 39.8,143.8" fill="none" stroke="#00ff00" stroke-width="1.8" stroke-linejoin="round"/>
<rect x="298.5" y="231.8" width="3.9" height="3.9" rx="1.2" fill="#00ff00" stroke="#00ff00" stroke-width="1.9"/>
<rect x="295.2" y="230.9" width="3.9" height="3.9" rx="1.2" fill="#00ff00" stroke="#00ff00" stroke-width="1.9"/>
<rect x="291.9" y="230.0" width="3.9" height="3.9" rx="1.2" fill="#00ff00" stroke="#00ff00" stroke-width="1.9"/>
<rect x="288.7" y="229.1" width="3.9" height="3.9" rx="1.2" fill="#00ff00" stroke="#00ff00" stroke-width="1.9"/>
<rect x="285.4" y="228.2" width="3.9" height="3.9" rx="1.2" fill="#00ff00" stroke="#00ff00" stroke-width="1.9"/>
<rect x="282.1" y="227.3" width="3.9" height="3.9" rx="1.2" fill="#00ff00" stroke="#00ff00" stroke-width="1.9"/>
<rect x="278.8" y="226.4" width="3.9" height="3.9" rx="1.2" fill="#00ff00" stroke="#00ff00" stroke-width="1.9"/>
<rect x="275.5" y="225.5" width="3.9" height="3.9" rx="1.2" fill="#00ff00" stroke="#00ff00" stroke-width="1.9"/>
<rect x="272.3" y="224.6" width="3.9" height="3.9" rx="1.2" fill="#00ff00" stroke="#00ff00" stroke-width="1.9"/>
<rect x="269.0" y="223.7" width="3.9" height="3.9" rx="1.2" fill="#00ff00" stroke="#00ff00" stroke-width="1.9"/>
<rect x="265.7" y="222.8" width="3.9" height="3.9" rx="1.2" fill="#00ff00" stroke="#00ff00" stroke-width="1.9"/>
<rect x="262.4" y="221.9" width="3.9" height="3.9" rx="1.2" fill="#00ff00" stroke="#00ff00" stroke-width="1.9"/>
<rect x="259.1" y="221.0" width="3.9" height="3.9" rx="1.2" fill="#00ff00" stroke="#00ff00" stroke-width="1.9"/>
<rect x="255.9" y="220.1" width="3.9" height="3.9" rx="1.2" fill="#00ff00" stroke="#00ff00" stroke-width="1.9"/>
<rect x="252.6" y="219.2" width="3.9" height="3.9" rx="1.2" fill="#00ff00" stroke="#00ff00" stroke-width="1.9"/>
<rect x="249.3" y="218.3" width="3.9" height="3.9" rx="1.2" fill="#00ff00" stroke="#00ff00" stroke-width="1.9"/>
<rect x="246.1" y="217.3" width="3.9" height="3.9" rx="1.2" fill="#00ff00" stroke="#00ff00" stroke-width="1.9"/>
<rect x="242.9" y="216.1" width="3.9" height="3.9" rx="1.2" fill="#00ff00" stroke="#00ff00" stroke-width="1.9"/>
<rect x="239.7" y="214.9" width="3.9" height="3.9" rx="1.2" fill="#00ff00" stroke="#00ff00" stroke-width="1.9"/>
<rect x="236.5" y="213.7" width="3.9" height="3.9" rx="1.2" fill="#00ff00" stroke="#00ff00" stroke-width="1.9"/>
<rect x="233.4" y="212.5" width="3.9" height="3.9" rx="1.2" fill="#00ff00" stroke="#00ff00" stroke-width="1.9"/>
<rect x="230.2" y="211.3" width="3.9" height="3.9" rx="1.2" fill="#00ff00" stroke="#00ff00" stroke-width="1.9"/>
<rect x="227.0" y="210.1" width="3.9" height="3.9" rx="1.2" fill="#00ff00" stroke="#00ff00" stroke-width="1.9"/>
<rect x="223.8" y="208.9" width="3.9" height="3.9" rx="1.2" fill="#00ff00" stroke="#00ff00" stroke-width="1.9"/>
<rect x="220.6" y="207.7" width="3.9" height="3.9" rx="1.2" fill="#00ff00" stroke="#00ff00" stroke-width="1.9"/>
<rect x="217.4" y="206.5" width="3.9" height="3.9" rx="1.2" fill="#00ff00" stroke="#00ff00" stroke-width="1.9"/>
<rect x="214.2" y="205.3" width="3.9" height="3.9" rx="1.2" fill="#00ff00" stroke="#00ff00" stroke-width="1.9"/>
<rect x="211.0" y="204.2" width="3.9" height="3.9" rx="1.2" fill="#00ff00" stroke="#00ff00" stroke-width="1.9"/>
<rect x="207.8" y="203.1" width="3.9" height="3.9" rx="1.2" fill="#00ff00" stroke="#00ff00" stroke-width="1.9"/>
<rect x="204.6" y="202.0" width="3.9" height="3.9" rx="1.2" fill="#00ff00" stroke="#00ff00" stroke-width="1.9"/>
<rect x="201.4" y="200.8" width="3.9" height="3.9" rx="1.2" fill="#00ff00" stroke="#00ff00" stroke-width="1.9"/>
<rect x="198.2" y="199.7" width="3.9" height="3.9" rx="1.2" fill="#00ff00" stroke="#00ff00" stroke-width="1.9"/>
<rect x="195.0" y="198.7" width="3.9" height="3.9" rx="1.2" fill="#00ff00" stroke="#00ff00" stroke-width="1.9"/>
<rect x="191.7" y="197.7" width="3.9" height="3.9" rx="1.2" fill="#00ff00" stroke="#00ff00" stroke-width="1.9"/>
<rect x="188.5" y="196.6" width="3.9" height="3.9" rx="1.2" fill="#00ff00" stroke="#00ff00" stroke-width="1.9"/>
<rect x="185.2" y="195.6" width="3.9" height="3.9" rx="1.2" fill="#00ff00" stroke="#00ff00" stroke-width="1.9"/>
<rect x="182.0" y="194.6" width="3.9" height="3.9" rx="1.2" fill="#00ff00" stroke="#00ff00" stroke-width="1.9"/>
<rect x="178.8" y="193.6" width="3.9" height="3.9" rx="1.2" fill="#00ff00" stroke="#00ff00" stroke-width="1.9"/>
<rect x="175.5" y="192.5" width="3.9" height="3.9" rx="1.2" fill="#00ff00" stroke="#00ff00" stroke-width="1.9"/>
<rect x="172.3" y="191.4" width="3.9" height="3.9" rx="1.2" fill="#00ff00" stroke="#00ff00" stroke-width="1.9"/>
<rect x="169.1" y="190.3" width="3.9" height="3.9" rx="1.2" fill="#00ff00" stroke="#00ff00" stroke-width="1.9"/>
<rect x="165.9" y="189.2" width="3.9" height="3.9" rx="1.2" fill="#00ff00" stroke="#00ff00" stroke-width="1.9"/>
<rect x="162.7" y="188.1" width="3.9" height="3.9" rx="1.2" fill="#00ff00" stroke="#00ff00" stroke-width="1.9"/>
<rect x="159.4" y="187.0" width="3.9" height="3.9" rx="1.2" fill="#00ff00" stroke="#00ff00" stroke-width="1.9"/>
<rect x="156.2" y="185.9" width="3.9" height="3.9" rx="1.2" fill="#00ff00" stroke="#00ff00" stroke-width="1.9"/>
<rect x="153.0" y="184.8" width="3.9" height="3.9" rx="1.2" fill="#00ff00" stroke="#00ff00" stroke-width="1.9"/>
<rect x="149.8" y="183.7" width="3.9" height="3.9" rx="1.2" fill="#00ff00" stroke="#00ff00" stroke-width="1.9"/>
<rect x="146.6" y="182.6" width="3.9" height="3.9" rx="1.2" fill="#00ff00" stroke="#00ff00" stroke-width="1.9"/>
<rect x="143.4" y="181.4" width="3.9" height="3.9" rx="1.2" fill="#00ff00" stroke="#00ff00" stroke-width="1.9"/>
<rect x="140.2" y="180.2" width="3.9" height="3.9" rx="1.2" fill="#00ff00" stroke="#00ff00" stroke-width="1.9"/>
<rect x="137.0" y="179.0" width="3.9" height="3.9" rx="1.2" fill="#00ff00" stroke="#00ff00" stroke-width="1.9"/>
<rect x="133.8" y="177.8" width="3.9" height="3.9" rx="1.2" fill="#00ff00" stroke="#00ff00" stroke-width="1.9"/>
<rect x="130.7" y="176.6" width="3.9" height="3.9" rx="1.2" fill="#00ff00" stroke="#00ff00" stroke-width="1.9"/>
<rect x="127.5" y="175.4" width="3.9" height="3.9" rx="1.2" fill="#00ff00" stroke="#00ff00" stroke-width="1.9"/>
<rect x="124.3" y="174.2" width="3.9" height="3.9" rx="1.2" fill="#00ff00" stroke="#00ff00" stroke-width="1.9"/>
<rect x="121.1" y="173.0" width="3.9" height="3.9" rx="1.2" fill="#00ff00" stroke="#00ff00" stroke-width="1.9"/>
<rect x="117.9" y="171.8" width="3.9" height="3.9" rx="1.2" fill="#00ff00" stroke="#00ff00" stroke-width="1.9"/>
<rect x="114.7" y="170.6" width="3.9" height="3.9" rx="1.2" fill="#00ff00" stroke="#00ff00" stroke-width="1.9"/>
<rect x="111.6" y="169.4" width="3.9" height="3.9" rx="1.2" fill="#00ff00" stroke="#00ff00" stroke-width="1.9"/>
<rect x="108.4" y="168.3" width="3.9" height="3.9" rx="1.2" fill="#00ff00" stroke="#00ff00" stroke-width="1.9"/>
<rect x="105.2" y="167.1" width="3.9" height="3.9" rx="1.2" fill="#00ff00" stroke="#00ff00" stroke-width="1.9"/>
<rect x="102.0" y="165.9" width="3.9" height="3.9" rx="1.2" fill="#00ff00" stroke="#00ff00" stroke-width="1.9"/>
<rect x="98.8" y="164.7" width="3.9" height="3.9" rx="1.2" fill="#00ff00" stroke="#00ff00" stroke-width="1.9"/>
<rect x="95.6" y="163.5" width="3.9" height="3.9" rx="1.2" fill="#00ff00" stroke="#00ff00" stroke-width="1.9"/>
<rect x="92.5" y="162.3" width="3.9" height="3.9" rx="1.2" fill="#00ff00" stroke="#00ff00" stroke-width="1.9"/>
<rect x="89.3" y="161.1" width="3.9" height="3.9" rx="1.2" fill="#00ff00" stroke="#00ff00" stroke-width="1.9"/>
<rect x="86.1" y="159.9" width="3.9" height="3.9" rx="1.2" fill="#00ff00" stroke="#00ff00" stroke-width="1.9"/>
<rect x="82.9" y="158.7" width="3.9" height="3.9" rx="1.2" fill="#00ff00" stroke="#00ff00" stroke-width="1.9"/>
<rect x="79.7" y="157.5" width="3.9" height="3.9" rx="1.2" fill="#00ff00" stroke="#00ff00" stroke-width="1.9"/>
<rect x="76.5" y="156.3" width="3.9" height="3.9" rx="1.2" fill="#00ff00" stroke="#00ff00" stroke-width="1.9"/>
<rect x="73.4" y="155.1" width="3.9" height="3.9" rx="1.2" fill="#00ff00" stroke="#00ff00" stroke-width="1.9"/>
<rect x="70.2" y="153.9" width="3.9" height="3.9" rx="1.2" fill="#00ff00" stroke="#00ff00" stroke-width="1.9"/>
<rect x="67.0" y="152.7" width="3.9" height="3.9" rx="1.2" fill="#00ff00" stroke="#00ff00" stroke-width="1.9"/>
<rect x="63.8" y="151.5" width="3.9" height="3.9" rx="1.2" fill="#00ff00" stroke="#00ff00" stroke-width="1.9"/>
<rect x="60.6" y="150.3" width="3.9" height="3.9" rx="1.2" fill="#00ff00" stroke="#00ff00" stroke-width="1.9"/>
<rect x="57.4" y="149.1" width="3.9" height="3.9" rx="1.2" fill="#00ff00" stroke="#00ff00" stroke-width="1.9"/>
<rect x="54.3" y="147.9" width="3.9" height="3.9" rx="1.2" fill="#00ff00" stroke="#00ff00" stroke-width="1.9"/>
<rect x="51.1" y="146.8" width="3.9" height="3.9" rx="1.2" fill="#00ff00" stroke="#00ff00" stroke-width="1.9"/>
<rect x="47.9" y="145.6" width="3.9" height="3.9" rx="1.2" fill="#00ff00" stroke="#00ff00" stroke-width="1.9"/>
<rect x="44.7" y="144.4" width="3.9" height="3.9" rx="1.2" fill="#00ff00" stroke="#00ff00" stroke-width="1.9"/>
<rect x="41.5" y="143.2" width="3.9" height="3.9" rx="1.2" fill="#00ff00" stroke="#00ff00" stroke-width="1.9"/>
<rect x="38.3" y="142.0" width="3.9" height="3.9" rx="1.2" fill="#00ff00" stroke="#00ff00" stroke-width="1.9"/>
<polyline points="300.8,232.6 281.6,227.4 250.2,218.7 215.2,205.6 200.2,200.4 180.2,194.1 150.2,183.9 140.2,180.1 47.2,145.2 40.2,142.6" fill="none" stroke="#00ff00" stroke-width="1.8" stroke-linejoin="round"/>
<rect x="297.2" y="230.2" width="3.9" height="3.9" rx="1.2" fill="#00ff00" stroke="#00ff00" stroke-width="1.9"/>
<rect x="293.9" y="229.3" width="3.9" height="3.9" rx="1.2" fill="#00ff00" stroke="#00ff00" stroke-width="1.9"/>
<rect x="290.6" y="228.4" width="3.9" height="3.9" rx="1.2" fill="#00ff00" stroke="#00ff00" stroke-width="1.9"/>
<rect x="287.3" y="227.5" width="3.9" height="3.9" rx="1.2" fill="#00ff00" stroke="#00ff00" stroke-width="1.9"/>
<rect x="284.1" y="226.6" width="3.9" height="3.9" rx="1.2" fill="#00ff00" stroke="#00ff00" stroke-width="1.9"/>
<rect x="280.8" y="225.7" width="3.9" height="3.9" rx="1.2" fill="#00ff00" stroke="#00ff00" stroke-width="1.9"/>
<rect x="277.5" y="224.8" width="3.9" height="3.9" rx="1.2" fill="#00ff00" stroke="#00ff00" stroke-width="1.9"/>
<rect x="274.2" y="223.9" width="3.9" height="3.9" rx="1.2" fill="#00ff00" stroke="#00ff00" stroke-width="1.9"/>
<rect x="270.9" y="223.0" width="3.9" height="3.9" rx="1.2" fill="#00ff00" stroke="#00ff00" stroke-width="1.9"/>
<rect x="267.7" y="222.1" width="3.9" height="3.9" rx="1.2" fill="#00ff00" stroke="#00ff00" stroke-width="1.9"/>
<rect x="264.4" y="221.2" width="3.9" height="3.9" rx="1.2" fill="#00ff00" stroke="#00ff00" stroke-width="1.9"/>
<rect x="261.1" y="220.3" width="3.9" height="3.9" rx="1.2" fill="#00ff00" stroke="#00ff00" stroke-width="1.9"/>
<rect x="257.8" y="219.4" width="3.9" height="3.9" rx="1.2" fill="#00ff00" stroke="#00ff00" stroke-width="1.9"/>
<rect x="254.5" y="218.5" width="3.9" height="3.9" rx="1.2" fill="#00ff00" stroke="#00ff00" stroke-width="1.9"/>
<rect x="251.3" y="217.6" width="3.9" height="3.9" rx="1.2" fill="#00ff00" stroke="#00ff00" stroke-width="1.9"/>
<rect x="248.0" y="216.7" width="3.9" height="3.9" rx="1.2" fill="#00ff00" stroke="#00ff00" stroke-width="1.9"/>
<rect x="244.8" y="215.5" width="3.9" height="3.9" rx="1.2" fill="#00ff00" stroke="#00ff00" stroke-width="1.9"/>
<rect x="241.6" y="214.3" width="3.9" height="3.9" rx="1.2" fill="#00ff00" stroke="#00ff00" stroke-width="1.9"/>
<rect x="238.4" y="213.1" width="3.9" height="3.9" rx="1.2" fill="#00ff00" stroke="#00ff00" stroke-width="1.9"/>
<rect x="235.3" y="211.9" width="3.9" height="3.9" rx="1.2" fill="#00ff00" stroke="#00ff00" stroke-width="1.9"/>
<rect x="232.1" y="210.7" width="3.9" height="3.9" rx="1.2" fill="#00ff00" stroke="#00ff00" stroke-width="1.9"/>
<rect x="228.9" y="209.5" width="3.9" height="3.9" rx="1.2" fill="#00ff00" stroke="#00ff00" stroke-width="1.9"/>
<rect x="225.7" y="208.3" width="3.9" height="3.9" rx="1.2" fill="#00ff00" stroke="#00ff00" stroke-width="1.9"/>
<rect x="222.5" y="207.2" width="3.9" height="3.9" rx="1.2" fill="#00ff00" stroke="#00ff00" stroke-width="1.9"/>
<rect x="219.3" y="206.0" width="3.9" height="3.9" rx="1.2" fill="#00ff00" stroke="#00ff00" stroke-width="1.9"/>
<rect x="216.2" y="204.8" width="3.9" height="3.9" rx="1.2" fill="#00ff00" stroke="#00ff00" stroke-width="1.9"/>
<rect x="213.0" y="203.6" width="3.9" height="3.9" rx="1.2" fill="#00ff00" stroke="#00ff00" stroke-width="1.9"/>
<rect x="209.8" y="202.5" width="3.9" height="3.9" rx="1.2" fill="#00ff00" stroke="#00ff00" stroke-width="1.9"/>
<rect x="206.5" y="201.4" width="3.9" height="3.9" rx="1.2" fill="#00ff00" stroke="#00ff00" stroke-width="1.9"/>
<rect x="203.3" y="200.2" width="3.9" height="3.9" rx="1.2" fill="#00ff00" stroke="#00ff00" stroke-width="1.9"/>
<rect x="200.1" y="199.1" width="3.9" height="3.9" rx="1.2" fill="#00ff00" stroke="#00ff00" stroke-width="1.9"/>
<rect x="196.9" y="198.1" width="3.9" height="3.9" rx="1.2" fill="#00ff00" stroke="#00ff00" stroke-width="1.9"/>
<rect x="193.7" y="197.0" width="3.9" height="3.9" rx="1.2" fill="#00ff00" stroke="#00ff00" stroke-width="1.9"/>
<rect x="190.4" y="196.0" width="3.9" height="3.9" rx="1.2" fill="#00ff00" stroke="#00ff00" stroke-width="1.9"/>
<rect x="187.2" y="195.0" width="3.9" height="3.9" rx="1.2" fill="#00ff00" stroke="#00ff00" stroke-width="1.9"/>
<rect x="183.9" y="193.9" width="3.9" height="3.9" rx="1.2" fill="#00ff00" stroke="#00ff00" stroke-width="1.9"/>
<rect x="180.7" y="192.9" width="3.9" height="3.9" rx="1.2" fill="#00ff00" stroke="#00ff00" stroke-width="1.9"/>
<rect x="177.5" y="191.9" width="3.9" height="3.9" rx="1.2" fill="#00ff00" stroke="#00ff00" stroke-width="1.9"/>
<rect x="174.2" y="190.8" width="3.9" height="3.9" rx="1.2" fill="#00ff00" stroke="#00ff00" stroke-width="1.9"/>
<rect x="171.0" y="189.7" width="3.9" height="3.9" rx="1.2" fill="#00ff00" stroke="#00ff00" stroke-width="1.9"/>
<rect x="167.8" y="188.6" width="3.9" height="3.9" rx="1.2" fill="#00ff00" stroke="#00ff00" stroke-width="1.9"/>
<rect x="164.6" y="187.5" width="3.9" height="3.9" rx="1.2" fill="#00ff00" stroke="#00ff00" stroke-width="1.9"/>
<rect x="161.4" y="186.4" width="3.9" height="3.9" rx="1.2" fill="#00ff00" stroke="#00ff00" stroke-width="1.9"/>
<rect x="158.1" y="185.3" width="3.9" height="3.9" rx="1.2" fill="#00ff00" stroke="#00ff00" stroke-width="1.9"/>
<rect x="154.9" y="184.2" width="3.9" height="3.9" rx="1.2" fill="#00ff00" stroke="#00ff00" stroke-width="1.9"/>
<rect x="151.7" y="183.1" width="3.9" height="3.9" rx="1.2" fill="#00ff00" stroke="#00ff00" stroke-width="1.9"/>
<rect x="148.5" y="182.0" width="3.9" height="3.9" rx="1.2" fill="#00ff00" stroke="#00ff00" stroke-width="1.9"/>
<rect x="145.3" y="180.8" width="3.9" height="3.9" rx="1.2" fill="#00ff00" stroke="#00ff00" stroke-width="1.9"/>
<rect x="142.1" y="179.6" width="3.9" height="3.9" rx="1.2" fill="#00ff00" stroke="#00ff00" stroke-width="1.9"/>
<rect x="138.9" y="178.4" width="3.9" height="3.9" rx="1.2" fill="#00ff00" stroke="#00ff00" stroke-width="1.9"/>
<rect x="135.7" y="177.2" width="3.9" height="3.9" rx="1.2" fill="#00ff00" stroke="#00ff00" stroke-width="1.9"/>
<rect x="132.6" y="176.1" width="3.9" height="3.9" rx="1.2" fill="#00ff00" stroke="#00ff00" stroke-width="1.9"/>
<rect x="129.4" y="174.9" width="3.9" height="3.9" rx="1.2" fill="#00ff00" stroke="#00ff00" stroke-width="1.9"/>
<rect x="126.2" y="173.7" width="3.9" height="3.9" rx="1.2" fill="#00ff00" stroke="#00ff00" stroke-width="1.9"/>
<rect x="123.0" y="172.5" width="3.9" height="3.9" rx="1.2" fill="#00ff00" stroke="#00ff00" stroke-width="1.9"/>
<rect x="119.8" y="171.3" width="3.9" height="3.9" rx="1.2" fill="#00ff00" stroke="#00ff00" stroke-width="1.9"/>
<rect x="116.6" y="170.1" width="3.9" height="3.9" rx="1.2" fill="#00ff00" stroke="#00ff00" stroke-width="1.9"/>
<rect x="113.5" y="168.9" width="3.9" height="3.9" rx="1.2" fill="#00ff00" stroke="#00ff00" stroke-width="1.9"/>
<rect x="110.3" y="167.7" width="3.9" height="3.9" rx="1.2" fill="#00ff00" stroke="#00ff00" stroke-width="1.9"/>
<rect x="107.1" y="166.5" width="3.9" height="3.9" rx="1.2" fill="#00ff00" stroke="#00ff00" stroke-width="1.9"/>
<rect x="103.9" y="165.3" width="3.9" height="3.9" rx="1.2" fill="#00ff00" stroke="#00ff00" stroke-width="1.9"/>
<rect x="100.7" y="164.1" width="3.9" height="3.9" rx="1.2" fill="#00ff00" stroke="#00ff00" stroke-width="1.9"/>
<rect x="97.5" y="162.9" width="3.9" height="3.9" rx="1.2" fill="#00ff00" stroke="#00ff00" stroke-width="1.9"/>
<rect x="94.4" y="161.7" width="3.9" height="3.9" rx="1.2" fill="#00ff00" stroke="#00ff00" stroke-width="1.9"/>
<rect x="91.2" y="160.5" width="3.9" height="3.9" rx="1.2" fill="#00ff00" stroke="#00ff00" stroke-width="1.9"/>
<rect x="88.0" y="159.3" width="3.9" height="3.9" rx="1.2" fill="#00ff00" stroke="#00ff00" stroke-width="1.9"/>
<rect x="84.8" y="158.1" width="3.9" height="3.9" rx="1.2" fill="#00ff00" stroke="#00ff00" stroke-width="1.9"/>
<rect x="81.6" y="156.9" width="3.9" height="3.9" rx="1.2" fill="#00ff00" stroke="#00ff00" stroke-width="1.9"/>
<rect x="78.5" y="155.7" width="3.9" height="3.9" rx="1.2" fill="#00ff00" stroke="#00ff00" stroke-width="1.9"/>
<rect x="75.3" y="154.5" width="3.9" height="3.9" rx="1.2" fill="#00ff00" stroke="#00ff00" stroke-width="1.9"/>
<rect x="72.1" y="153.4" width="3.9" height="3.9" rx="1.2" fill="#00ff00" stroke="#00ff00" stroke-width="1.9"/>
<rect x="68.9" y="152.2" width="3.9" height="3.9" rx="1.2" fill="#00ff00" stroke="#00ff00" stroke-width="1.9"/>
<rect x="65.7" y="151.0" width="3.9" height="3.9" rx="1.2" fill="#00ff00" stroke="#00ff00" stroke-width="1.9"/>
<rect x="62.5" y="149.8" width="3.9" height="3.9" rx="1.2" fill="#00ff00" stroke="#00ff00" stroke-width="1.9"/>
<rect x="59.4" y="148.6" width="3.9" height="3.9" rx="1.2" fill="#00ff00" stroke="#00ff00" stroke-width="1.9"/>
<rect x="56.2" y="147.4" width="3.9" height="3.9" rx="1.2" fill="#00ff00" stroke="#00ff00" stroke-width="1.9"/>
<rect x="53.0" y="146.2" width="3.9" height="3.9" rx="1.2" fill="#00ff00" stroke="#00ff00" stroke-width="1.9"/>
<rect x="49.8" y="145.0" width="3.9" height="3.9" rx="1.2" fill="#00ff00" stroke="#00ff00" stroke-width="1.9"/>
<rect x="46.6" y="143.8" width="3.9" height="3.9" rx="1.2" fill="#00ff00" stroke="#00ff00" stroke-width="1.9"/>
<rect x="43.4" y="142.6" width="3.9" height="3.9" rx="1.2" fill="#00ff00" stroke="#00ff00" stroke-width="1.9"/>
<rect x="40.2" y="141.4" width="3.9" height="3.9" rx="1.2" fill="#00ff00" stroke="#00ff00" stroke-width="1.9"/>
<path d="M280.4,227.6a0.8,0.8 0 1,0 1.6,0a0.8,0.8 0 1,0 -1.6,0M277.2,226.6a0.8,0.8 0 1,0 1.6,0a0.8,0.8 0 1,0 -1.6,0M274.0,225.5a0.8,0.8 0 1,0 1.6,0a0.8,0.8 0 1,0 -1.6,0M270.7,224.4a0.8,0.8 0 1,0 1.6,0a0.8,0.8 0 1,0 -1.6,0M267.5,223.4a0.8,0.8 0 1,0 1.6,0a0.8,0.8 0 1,0 -1.6,0M264.3,222.3a0.8,0.8 0 1,0 1.6,0a0.8,0.8 0 1,0 -1.6,0M261.0,221.2a0.8,0.8 0 1,0 1.6,0a0.8,0.8 0 1,0 -1.6,0M257.8,220.2a0.8,0.8 0 1,0 1.6,0a0.8,0.8 0 1,0 -1.6,0M254.6,219.1a0.8,0.8 0 1,0 1.6,0a0.8,0.8 0 1,0 -1.6,0M251.4,218.0a0.8,0.8 0 1,0 1.6,0a0.8,0.8 0 1,0 -1.6,0M248.1,216.9a0.8,0.8 0 1,0 1.6,0a0.8,0.8 0 1,0 -1.6,0M245.0,215.7a0.8,0.8 0 1,0 1.6,0a0.8,0.8 0 1,0 -1.6,0M241.8,214.5a0.8,0.8 0 1,0 1.6,0a0.8,0.8 0 1,0 -1.6,0M238.6,213.3a0.8,0.8 0 1,0 1.6,0a0.8,0.8 0 1,0 -1.6,0M235.4,212.1a0.8,0.8 0 1,0 1.6,0a0.8,0.8 0 1,0 -1.6,0M232.2,210.9a0.8,0.8 0 1,0 1.6,0a0.8,0.8 0 1,0 -1.6,0M229.1,209.7a0.8,0.8 0 1,0 1.6,0a0.8,0.8 0 1,0 -1.6,0M225.9,208.5a0.8,0.8 0 1,0 1.6,0a0.8,0.8 0 1,0 -1.6,0M222.7,207.3a0.8,0.8 0 1,0 1.6,0a0.8,0.8 0 1,0 -1.6,0M219.5,206.1a0.8,0.8 0 1,0 1.6,0a0.8,0.8 0 1,0 -1.6,0M216.4,204.9a0.8,0.8 0 1,0 1.6,0a0.8,0.8 0 1,0 -1.6,0M213.2,203.6a0.8,0.8 0 1,0 1.6,0a0.8,0.8 0 1,0 -1.6,0M210.1,202.3a0.8,0.8 0 1,0 1.6,0a0.8,0.8 0 1,0 -1.6,0M206.9,201.0a0.8,0.8 0 1,0 1.6,0a0.8,0.8 0 1,0 -1.6,0M203.8,199.6a0.8,0.8 0 1,0 1.6,0a0.8,0.8 0 1,0 -1.6,0M200.7,198.3a0.8,0.8 0 1,0 1.6,0a0.8,0.8 0 1,0 -1.6,0M197.5,197.1a0.8,0.8 0 1,0 1.6,0a0.8,0.8 0 1,0 -1.6,0M194.3,196.0a0.8,0.8 0 1,0 1.6,0a0.8,0.8 0 1,0 -1.6,0M191.1,194.9a0.8,0.8 0 1,0 1.6,0a0.8,0.8 0 1,0 -1.6,0M187.8,193.9a0.8,0.8 0 1,0 1.6,0a0.8,0.8 0 1,0 -1.6,0M184.6,192.8a0.8,0.8 0 1,0 1.6,0a0.8,0.8 0 1,0 -1.6,0M181.4,191.7a0.8,0.8 0 1,0 1.6,0a0.8,0.8 0 1,0 -1.6,0M178.1,190.6a0.8,0.8 0 1,0 1.6,0a0.8,0.8 0 1,0 -1.6,0M174.9,189.5a0.8,0.8 0 1,0 1.6,0a0.8,0.8 0 1,0 -1.6,0M171.7,188.4a0.8,0.8 0 1,0 1.6,0a0.8,0.8 0 1,0 -1.6,0M168.5,187.3a0.8,0.8 0 1,0 1.6,0a0.8,0.8 0 1,0 -1.6,0M165.3,186.2a0.8,0.8 0 1,0 1.6,0a0.8,0.8 0 1,0 -1.6,0M162.1,185.2a0.8,0.8 0 1,0 1.6,0a0.8,0.8 0 1,0 -1.6,0M158.8,184.1a0.8,0.8 0 1,0 1.6,0a0.8,0.8 0 1,0 -1.6,0M155.6,183.0a0.8,0.8 0 1,0 1.6,0a0.8,0.8 0 1,0 -1.6,0M152.4,181.9a0.8,0.8 0 1,0 1.6,0a0.8,0.8 0 1,0 -1.6,0M149.2,180.8a0.8,0.8 0 1,0 1.6,0a0.8,0.8 0 1,0 -1.6,0M146.0,179.7a0.8,0.8 0 1,0 1.6,0a0.8,0.8 0 1,0 -1.6,0M142.7,178.6a0.8,0.8 0 1,0 1.6,0a0.8,0.8 0 1,0 -1.6,0M139.5,177.5a0.8,0.8 0 1,0 1.6,0a0.8,0.8 0 1,0 -1.6,0M136.3,176.3a0.8,0.8 0 1,0 1.6,0a0.8,0.8 0 1,0 -1.6,0M133.1,175.2a0.8,0.8 0 1,0 1.6,0a0.8,0.8 0 1,0 -1.6,0M129.9,174.1a0.8,0.8 0 1,0 1.6,0a0.8,0.8 0 1,0 -1.6,0M126.7,173.0a0.8,0.8 0 1,0 1.6,0a0.8,0.8 0 1,0 -1.6,0M123.5,171.9a0.8,0.8 0 1,0 1.6,0a0.8,0.8 0 1,0 -1.6,0M120.3,170.8a0.8,0.8 0 1,0 1.6,0a0.8,0.8 0 1,0 -1.6,0M117.1,169.6a0.8,0.8 0 1,0 1.6,0a0.8,0.8 0 1,0 -1.6,0M113.8,168.5a0.8,0.8 0 1,0 1.6,0a0.8,0.8 0 1,0 -1.6,0M110.6,167.4a0.8,0.8 0 1,0 1.6,0a0.8,0.8 0 1,0 -1.6,0M107.4,166.3a0.8,0.8 0 1,0 1.6,0a0.8,0.8 0 1,0 -1.6,0M104.2,165.2a0.8,0.8 0 1,0 1.6,0a0.8,0.8 0 1,0 -1.6,0M101.0,164.1a0.8,0.8 0 1,0 1.6,0a0.8,0.8 0 1,0 -1.6,0M97.8,163.0a0.8,0.8 0 1,0 1.6,0a0.8,0.8 0 1,0 -1.6,0M94.6,161.8a0.8,0.8 0 1,0 1.6,0a0.8,0.8 0 1,0 -1.6,0M91.4,160.7a0.8,0.8 0 1,0 1.6,0a0.8,0.8 0 1,0 -1.6,0M88.1,159.6a0.8,0.8 0 1,0 1.6,0a0.8,0.8 0 1,0 -1.6,0M84.9,158.5a0.8,0.8 0 1,0 1.6,0a0.8,0.8 0 1,0 -1.6,0M81.7,157.4a0.8,0.8 0 1,0 1.6,0a0.8,0.8 0 1,0 -1.6,0M78.5,156.3a0.8,0.8 0 1,0 1.6,0a0.8,0.8 0 1,0 -1.6,0M75.3,155.1a0.8,0.8 0 1,0 1.6,0a0.8,0.8 0 1,0 -1.6,0M72.1,154.0a0.8,0.8 0 1,0 1.6,0a0.8,0.8 0 1,0 -1.6,0M68.9,152.9a0.8,0.8 0 1,0 1.6,0a0.8,0.8 0 1,0 -1.6,0M65.7,151.8a0.8,0.8 0 1,0 1.6,0a0.8,0.8 0 1,0 -1.6,0M62.5,150.7a0.8,0.8 0 1,0 1.6,0a0.8,0.8 0 1,0 -1.6,0M59.2,149.6a0.8,0.8 0 1,0 1.6,0a0.8,0.8 0 1,0 -1.6,0M56.0,148.4a0.8,0.8 0 1,0 1.6,0a0.8,0.8 0 1,0 -1.6,0M52.8,147.3a0.8,0.8 0 1,0 1.6,0a0.8,0.8 0 1,0 -1.6,0M49.6,146.2a0.8,0.8 0 1,0 1.6,0a0.8,0.8 0 1,0 -1.6,0M46.4,145.1a0.8,0.8 0 1,0 1.6,0a0.8,0.8 0 1,0 -1.6,0M43.2,143.9a0.8,0.8 0 1,0 1.6,0a0.8,0.8 0 1,0 -1.6,0M40.0,142.7a0.8,0.8 0 1,0 1.6,0a0.8,0.8 0 1,0 -1.6,0M279.2,225.9a0.8,0.8 0 1,0 1.6,0a0.8,0.8 0 1,0 -1.6,0M275.9,224.9a0.8,0.8 0 1,0 1.6,0a0.8,0.8 0 1,0 -1.6,0M272.7,223.8a0.8,0.8 0 1,0 1.6,0a0.8,0.8 0 1,0 -1.6,0M269.5,222.8a0.8,0.8 0 1,0 1.6,0a0.8,0.8 0 1,0 -1.6,0M266.3,221.7a0.8,0.8 0 1,0 1.6,0a0.8,0.8 0 1,0 -1.6,0M263.0,220.6a0.8,0.8 0 1,0 1.6,0a0.8,0.8 0 1,0 -1.6,0M259.8,219.6a0.8,0.8 0 1,0 1.6,0a0.8,0.8 0 1,0 -1.6,0M256.6,218.5a0.8,0.8 0 1,0 1.6,0a0.8,0.8 0 1,0 -1.6,0M253.3,217.4a0.8,0.8 0 1,0 1.6,0a0.8,0.8 0 1,0 -1.6,0M250.1,216.4a0.8,0.8 0 1,0 1.6,0a0.8,0.8 0 1,0 -1.6,0M246.9,215.2a0.8,0.8 0 1,0 1.6,0a0.8,0.8 0 1,0 -1.6,0M243.7,214.0a0.8,0.8 0 1,0 1.6,0a0.8,0.8 0 1,0 -1.6,0M240.6,212.8a0.8,0.8 0 1,0 1.6,0a0.8,0.8 0 1,0 -1.6,0M237.4,211.6a0.8,0.8 0 1,0 1.6,0a0.8,0.8 0 1,0 -1.6,0M234.2,210.4a0.8,0.8 0 1,0 1.6,0a0.8,0.8 0 1,0 -1.6,0M231.0,209.2a0.8,0.8 0 1,0 1.6,0a0.8,0.8 0 1,0 -1.6,0M227.9,207.9a0.8,0.8 0 1,0 1.6,0a0.8,0.8 0 1,0 -1.6,0M224.7,206.7a0.8,0.8 0 1,0 1.6,0a0.8,0.8 0 1,0 -1.6,0M221.5,205.5a0.8,0.8 0 1,0 1.6,0a0.8,0.8 0 1,0 -1.6,0M218.3,204.3a0.8,0.8 0 1,0 1.6,0a0.8,0.8 0 1,0 -1.6,0M215.1,203.1a0.8,0.8 0 1,0 1.6,0a0.8,0.8 0 1,0 -1.6,0M212.0,201.8a0.8,0.8 0 1,0 1.6,0a0.8,0.8 0 1,0 -1.6,0M208.9,200.5a0.8,0.8 0 1,0 1.6,0a0.8,0.8 0 1,0 -1.6,0M205.7,199.1a0.8,0.8 0 1,0 1.6,0a0.8,0.8 0 1,0 -1.6,0M202.6,197.8a0.8,0.8 0 1,0 1.6,0a0.8,0.8 0 1,0 -1.6,0M199.5,196.5a0.8,0.8 0 1,0 1.6,0a0.8,0.8 0 1,0 -1.6,0M196.3,195.4a0.8,0.8 0 1,0 1.6,0a0.8,0.8 0 1,0 -1.6,0M193.0,194.3a0.8,0.8 0 1,0 1.6,0a0.8,0.8 0 1,0 -1.6,0M189.8,193.2a0.8,0.8 0 1,0 1.6,0a0.8,0.8 0 1,0 -1.6,0M186.6,192.2a0.8,0.8 0 1,0 1.6,0a0.8,0.8 0 1,0 -1.6,0M183.4,191.1a0.8,0.8 0 1,0 1.6,0a0.8,0.8 0 1,0 -1.6,0M180.1,190.0a0.8,0.8 0 1,0 1.6,0a0.8,0.8 0 1,0 -1.6,0M176.9,188.9a0.8,0.8 0 1,0 1.6,0a0.8,0.8 0 1,0 -1.6,0M173.7,187.8a0.8,0.8 0 1,0 1.6,0a0.8,0.8 0 1,0 -1.6,0M170.5,186.8a0.8,0.8 0 1,0 1.6,0a0.8,0.8 0 1,0 -1.6,0M167.3,185.7a0.8,0.8 0 1,0 1.6,0a0.8,0.8 0 1,0 -1.6,0M164.0,184.6a0.8,0.8 0 1,0 1.6,0a0.8,0.8 0 1,0 -1.6,0M160.8,183.5a0.8,0.8 0 1,0 1.6,0a0.8,0.8 0 1,0 -1.6,0M157.6,182.4a0.8,0.8 0 1,0 1.6,0a0.8,0.8 0 1,0 -1.6,0M154.4,181.3a0.8,0.8 0 1,0 1.6,0a0.8,0.8 0 1,0 -1.6,0M151.2,180.2a0.8,0.8 0 1,0 1.6,0a0.8,0.8 0 1,0 -1.6,0M147.9,179.1a0.8,0.8 0 1,0 1.6,0a0.8,0.8 0 1,0 -1.6,0M144.7,178.0a0.8,0.8 0 1,0 1.6,0a0.8,0.8 0 1,0 -1.6,0M141.5,176.9a0.8,0.8 0 1,0 1.6,0a0.8,0.8 0 1,0 -1.6,0M138.3,175.8a0.8,0.8 0 1,0 1.6,0a0.8,0.8 0 1,0 -1.6,0M135.1,174.6a0.8,0.8 0 1,0 1.6,0a0.8,0.8 0 1,0 -1.6,0M131.9,173.5a0.8,0.8 0 1,0 1.6,0a0.8,0.8 0 1,0 -1.6,0M128.7,172.4a0.8,0.8 0 1,0 1.6,0a0.8,0.8 0 1,0 -1.6,0M125.5,171.3a0.8,0.8 0 1,0 1.6,0a0.8,0.8 0 1,0 -1.6,0M122.2,170.2a0.8,0.8 0 1,0 1.6,0a0.8,0.8 0 1,0 -1.6,0M119.0,169.1a0.8,0.8 0 1,0 1.6,0a0.8,0.8 0 1,0 -1.6,0M115.8,167.9a0.8,0.8 0 1,0 1.6,0a0.8,0.8 0 1,0 -1.6,0M112.6,166.8a0.8,0.8 0 1,0 1.6,0a0.8,0.8 0 1,0 -1.6,0M109.4,165.7a0.8,0.8 0 1,0 1.6,0a0.8,0.8 0 1,0 -1.6,0M106.2,164.6a0.8,0.8 0 1,0 1.6,0a0.8,0.8 0 1,0 -1.6,0M103.0,163.5a0.8,0.8 0 1,0 1.6,0a0.8,0.8 0 1,0 -1.6,0M99.8,162.4a0.8,0.8 0 1,0 1.6,0a0.8,0.8 0 1,0 -1.6,0M96.6,161.3a0.8,0.8 0 1,0 1.6,0a0.8,0.8 0 1,0 -1.6,0M93.3,160.1a0.8,0.8 0 1,0 1.6,0a0.8,0.8 0 1,0 -1.6,0M90.1,159.0a0.8,0.8 0 1,0 1.6,0a0.8,0.8 0 1,0 -1.6,0M86.9,157.9a0.8,0.8 0 1,0 1.6,0a0.8,0.8 0 1,0 -1.6,0M83.7,156.8a0.8,0.8 0 1,0 1.6,0a0.8,0.8 0 1,0 -1.6,0M80.5,155.7a0.8,0.8 0 1,0 1.6,0a0.8,0.8 0 1,0 -1.6,0M77.3,154.6a0.8,0.8 0 1,0 1.6,0a0.8,0.8 0 1,0 -1.6,0M74.1,153.4a0.8,0.8 0 1,0 1.6,0a0.8,0.8 0 1,0 -1.6,0M70.9,152.3a0.8,0.8 0 1,0 1.6,0a0.8,0.8 0 1,0 -1.6,0M67.6,151.2a0.8,0.8 0 1,0 1.6,0a0.8,0.8 0 1,0 -1.6,0M64.4,150.1a0.8,0.8 0 1,0 1.6,0a0.8,0.8 0 1,0 -1.6,0M61.2,149.0a0.8,0.8 0 1,0 1.6,0a0.8,0.8 0 1,0 -1.6,0M58.0,147.9a0.8,0.8 0 1,0 1.6,0a0.8,0.8 0 1,0 -1.6,0M54.8,146.8a0.8,0.8 0 1,0 1.6,0a0.8,0.8 0 1,0 -1.6,0M51.6,145.6a0.8,0.8 0 1,0 1.6,0a0.8,0.8 0 1,0 -1.6,0M48.4,144.5a0.8,0.8 0 1,0 1.6,0a0.8,0.8 0 1,0 -1.6,0M45.2,143.4a0.8,0.8 0 1,0 1.6,0a0.8,0.8 0 1,0 -1.6,0M42.0,142.2a0.8,0.8 0 1,0 1.6,0a0.8,0.8 0 1,0 -1.6,0M299.6,233.8a0.8,0.8 0 1,0 1.6,0a0.8,0.8 0 1,0 -1.6,0M296.4,232.9a0.8,0.8 0 1,0 1.6,0a0.8,0.8 0 1,0 -1.6,0M293.1,232.0a0.8,0.8 0 1,0 1.6,0a0.8,0.8 0 1,0 -1.6,0M289.8,231.1a0.8,0.8 0 1,0 1.6,0a0.8,0.8 0 1,0 -1.6,0M286.5,230.2a0.8,0.8 0 1,0 1.6,0a0.8,0.8 0 1,0 -1.6,0M283.2,229.3a0.8,0.8 0 1,0 1.6,0a0.8,0.8 0 1,0 -1.6,0M280.0,228.4a0.8,0.8 0 1,0 1.6,0a0.8,0.8 0 1,0 -1.6,0M276.7,227.5a0.8,0.8 0 1,0 1.6,0a0.8,0.8 0 1,0 -1.6,0M273.4,226.6a0.8,0.8 0 1,0 1.6,0a0.8,0.8 0 1,0 -1.6,0M270.1,225.7a0.8,0.8 0 1,0 1.6,0a0.8,0.8 0 1,0 -1.6,0M266.9,224.8a0.8,0.8 0 1,0 1.6,0a0.8,0.8 0 1,0 -1.6,0M263.6,223.9a0.8,0.8 0 1,0 1.6,0a0.8,0.8 0 1,0 -1.6,0M260.3,223.0a0.8,0.8 0 1,0 1.6,0a0.8,0.8 0 1,0 -1.6,0M257.0,222.1a0.8,0.8 0 1,0 1.6,0a0.8,0.8 0 1,0 -1.6,0M253.7,221.2a0.8,0.8 0 1,0 1.6,0a0.8,0.8 0 1,0 -1.6,0M250.5,220.3a0.8,0.8 0 1,0 1.6,0a0.8,0.8 0 1,0 -1.6,0M247.2,219.2a0.8,0.8 0 1,0 1.6,0a0.8,0.8 0 1,0 -1.6,0M244.1,218.0a0.8,0.8 0 1,0 1.6,0a0.8,0.8 0 1,0 -1.6,0M240.9,216.8a0.8,0.8 0 1,0 1.6,0a0.8,0.8 0 1,0 -1.6,0M237.7,215.6a0.8,0.8 0 1,0 1.6,0a0.8,0.8 0 1,0 -1.6,0M234.5,214.4a0.8,0.8 0 1,0 1.6,0a0.8,0.8 0 1,0 -1.6,0M231.3,213.2a0.8,0.8 0 1,0 1.6,0a0.8,0.8 0 1,0 -1.6,0M228.1,212.1a0.8,0.8 0 1,0 1.6,0a0.8,0.8 0 1,0 -1.6,0M224.9,210.9a0.8,0.8 0 1,0 1.6,0a0.8,0.8 0 1,0 -1.6,0M221.8,209.7a0.8,0.8 0 1,0 1.6,0a0.8,0.8 0 1,0 -1.6,0M218.6,208.5a0.8,0.8 0 1,0 1.6,0a0.8,0.8 0 1,0 -1.6,0M215.4,207.3a0.8,0.8 0 1,0 1.6,0a0.8,0.8 0 1,0 -1.6,0M212.2,206.1a0.8,0.8 0 1,0 1.6,0a0.8,0.8 0 1,0 -1.6,0M209.0,205.0a0.8,0.8 0 1,0 1.6,0a0.8,0.8 0 1,0 -1.6,0M205.8,203.9a0.8,0.8 0 1,0 1.6,0a0.8,0.8 0 1,0 -1.6,0M202.6,202.8a0.8,0.8 0 1,0 1.6,0a0.8,0.8 0 1,0 -1.6,0M199.3,201.7a0.8,0.8 0 1,0 1.6,0a0.8,0.8 0 1,0 -1.6,0M196.1,200.6a0.8,0.8 0 1,0 1.6,0a0.8,0.8 0 1,0 -1.6,0M192.9,199.6a0.8,0.8 0 1,0 1.6,0a0.8,0.8 0 1,0 -1.6,0M189.6,198.6a0.8,0.8 0 1,0 1.6,0a0.8,0.8 0 1,0 -1.6,0M186.4,197.6a0.8,0.8 0 1,0 1.6,0a0.8,0.8 0 1,0 -1.6,0M183.1,196.5a0.8,0.8 0 1,0 1.6,0a0.8,0.8 0 1,0 -1.6,0M179.9,195.5a0.8,0.8 0 1,0 1.6,0a0.8,0.8 0 1,0 -1.6,0M176.7,194.4a0.8,0.8 0 1,0 1.6,0a0.8,0.8 0 1,0 -1.6,0M173.5,193.3a0.8,0.8 0 1,0 1.6,0a0.8,0.8 0 1,0 -1.6,0M170.2,192.2a0.8,0.8 0 1,0 1.6,0a0.8,0.8 0 1,0 -1.6,0M167.0,191.1a0.8,0.8 0 1,0 1.6,0a0.8,0.8 0 1,0 -1.6,0M163.8,190.0a0.8,0.8 0 1,0 1.6,0a0.8,0.8 0 1,0 -1.6,0M160.6,189.0a0.8,0.8 0 1,0 1.6,0a0.8,0.8 0 1,0 -1.6,0M157.4,187.9a0.8,0.8 0 1,0 1.6,0a0.8,0.8 0 1,0 -1.6,0M154.1,186.8a0.8,0.8 0 1,0 1.6,0a0.8,0.8 0 1,0 -1.6,0M150.9,185.7a0.8,0.8 0 1,0 1.6,0a0.8,0.8 0 1,0 -1.6,0M147.7,184.5a0.8,0.8 0 1,0 1.6,0a0.8,0.8 0 1,0 -1.6,0M144.5,183.3a0.8,0.8 0 1,0 1.6,0a0.8,0.8 0 1,0 -1.6,0M141.4,182.1a0.8,0.8 0 1,0 1.6,0a0.8,0.8 0 1,0 -1.6,0M138.2,181.0a0.8,0.8 0 1,0 1.6,0a0.8,0.8 0 1,0 -1.6,0M135.0,179.8a0.8,0.8 0 1,0 1.6,0a0.8,0.8 0 1,0 -1.6,0M131.8,178.6a0.8,0.8 0 1,0 1.6,0a0.8,0.8 0 1,0 -1.6,0M128.6,177.4a0.8,0.8 0 1,0 1.6,0a0.8,0.8 0 1,0 -1.6,0M125.4,176.2a0.8,0.8 0 1,0 1.6,0a0.8,0.8 0 1,0 -1.6,0M122.3,175.0a0.8,0.8 0 1,0 1.6,0a0.8,0.8 0 1,0 -1.6,0M119.1,173.8a0.8,0.8 0 1,0 1.6,0a0.8,0.8 0 1,0 -1.6,0M115.9,172.6a0.8,0.8 0 1,0 1.6,0a0.8,0.8 0 1,0 -1.6,0M112.7,171.4a0.8,0.8 0 1,0 1.6,0a0.8,0.8 0 1,0 -1.6,0M109.5,170.2a0.8,0.8 0 1,0 1.6,0a0.8,0.8 0 1,0 -1.6,0M106.3,169.0a0.8,0.8 0 1,0 1.6,0a0.8,0.8 0 1,0 -1.6,0M103.2,167.8a0.8,0.8 0 1,0 1.6,0a0.8,0.8 0 1,0 -1.6,0M100.0,166.6a0.8,0.8 0 1,0 1.6,0a0.8,0.8 0 1,0 -1.6,0M96.8,165.4a0.8,0.8 0 1,0 1.6,0a0.8,0.8 0 1,0 -1.6,0M93.6,164.2a0.8,0.8 0 1,0 1.6,0a0.8,0.8 0 1,0 -1.6,0M90.4,163.0a0.8,0.8 0 1,0 1.6,0a0.8,0.8 0 1,0 -1.6,0M87.2,161.8a0.8,0.8 0 1,0 1.6,0a0.8,0.8 0 1,0 -1.6,0M84.1,160.6a0.8,0.8 0 1,0 1.6,0a0.8,0.8 0 1,0 -1.6,0M80.9,159.5a0.8,0.8 0 1,0 1.6,0a0.8,0.8 0 1,0 -1.6,0M77.7,158.3a0.8,0.8 0 1,0 1.6,0a0.8,0.8 0 1,0 -1.6,0M74.5,157.1a0.8,0.8 0 1,0 1.6,0a0.8,0.8 0 1,0 -1.6,0M71.3,155.9a0.8,0.8 0 1,0 1.6,0a0.8,0.8 0 1,0 -1.6,0M68.1,154.7a0.8,0.8 0 1,0 1.6,0a0.8,0.8 0 1,0 -1.6,0M65.0,153.5a0.8,0.8 0 1,0 1.6,0a0.8,0.8 0 1,0 -1.6,0M61.8,152.3a0.8,0.8 0 1,0 1.6,0a0.8,0.8 0 1,0 -1.6,0M58.6,151.1a0.8,0.8 0 1,0 1.6,0a0.8,0.8 0 1,0 -1.6,0M55.4,149.9a0.8,0.8 0 1,0 1.6,0a0.8,0.8 0 1,0 -1.6,0M52.2,148.7a0.8,0.8 0 1,0 1.6,0a0.8,0.8 0 1,0 -1.6,0M49.0,147.5a0.8,0.8 0 1,0 1.6,0a0.8,0.8 0 1,0 -1.6,0M45.9,146.3a0.8,0.8 0 1,0 1.6,0a0.8,0.8 0 1,0 -1.6,0M42.7,145.1a0.8,0.8 0 1,0 1.6,0a0.8,0.8 0 1,0 -1.6,0M39.5,143.9a0.8,0.8 0 1,0 1.6,0a0.8,0.8 0 1,0 -1.6,0M298.3,232.2a0.8,0.8 0 1,0 1.6,0a0.8,0.8 0 1,0 -1.6,0M295.0,231.3a0.8,0.8 0 1,0 1.6,0a0.8,0.8 0 1,0 -1.6,0M291.8,230.4a0.8,0.8 0 1,0 1.6,0a0.8,0.8 0 1,0 -1.6,0M288.5,229.5a0.8,0.8 0 1,0 1.6,0a0.8,0.8 0 1,0 -1.6,0M285.2,228.6a0.8,0.8 0 1,0 1.6,0a0.8,0.8 0 1,0 -1.6,0M281.9,227.7a0.8,0.8 0 1,0 1.6,0a0.8,0.8 0 1,0 -1.6,0M278.6,226.8a0.8,0.8 0 1,0 1.6,0a0.8,0.8 0 1,0 -1.6,0M275.4,225.9a0.8,0.8 0 1,0 1.6,0a0.8,0.8 0 1,0 -1.6,0M272.1,225.0a0.8,0.8 0 1,0 1.6,0a0.8,0.8 0 1,0 -1.6,0M268.8,224.1a0.8,0.8 0 1,0 1.6,0a0.8,0.8 0 1,0 -1.6,0M265.5,223.2a0.8,0.8 0 1,0 1.6,0a0.8,0.8 0 1,0 -1.6,0M262.3,222.3a0.8,0.8 0 1,0 1.6,0a0.8,0.8 0 1,0 -1.6,0M259.0,221.4a0.8,0.8 0 1,0 1.6,0a0.8,0.8 0 1,0 -1.6,0M255.7,220.5a0.8,0.8 0 1,0 1.6,0a0.8,0.8 0 1,0 -1.6,0M252.4,219.6a0.8,0.8 0 1,0 1.6,0a0.8,0.8 0 1,0 -1.6,0M249.1,218.6a0.8,0.8 0 1,0 1.6,0a0.8,0.8 0 1,0 -1.6,0M246.0,217.4a0.8,0.8 0 1,0 1.6,0a0.8,0.8 0 1,0 -1.6,0M242.8,216.3a0.8,0.8 0 1,0 1.6,0a0.8,0.8 0 1,0 -1.6,0M239.6,215.1a0.8,0.8 0 1,0 1.6,0a0.8,0.8 0 1,0 -1.6,0M236.4,213.9a0.8,0.8 0 1,0 1.6,0a0.8,0.8 0 1,0 -1.6,0M233.2,212.7a0.8,0.8 0 1,0 1.6,0a0.8,0.8 0 1,0 -1.6,0M230.0,211.5a0.8,0.8 0 1,0 1.6,0a0.8,0.8 0 1,0 -1.6,0M226.9,210.3a0.8,0.8 0 1,0 1.6,0a0.8,0.8 0 1,0 -1.6,0M223.7,209.1a0.8,0.8 0 1,0 1.6,0a0.8,0.8 0 1,0 -1.6,0M220.5,207.9a0.8,0.8 0 1,0 1.6,0a0.8,0.8 0 1,0 -1.6,0M217.3,206.7a0.8,0.8 0 1,0 1.6,0a0.8,0.8 0 1,0 -1.6,0M214.1,205.5a0.8,0.8 0 1,0 1.6,0a0.8,0.8 0 1,0 -1.6,0M210.9,204.4a0.8,0.8 0 1,0 1.6,0a0.8,0.8 0 1,0 -1.6,0M207.7,203.3a0.8,0.8 0 1,0 1.6,0a0.8,0.8 0 1,0 -1.6,0M204.5,202.2a0.8,0.8 0 1,0 1.6,0a0.8,0.8 0 1,0 -1.6,0M201.3,201.1a0.8,0.8 0 1,0 1.6,0a0.8,0.8 0 1,0 -1.6,0M198.0,200.0a0.8,0.8 0 1,0 1.6,0a0.8,0.8 0 1,0 -1.6,0M194.8,199.0a0.8,0.8 0 1,0 1.6,0a0.8,0.8 0 1,0 -1.6,0M191.6,197.9a0.8,0.8 0 1,0 1.6,0a0.8,0.8 0 1,0 -1.6,0M188.3,196.9a0.8,0.8 0 1,0 1.6,0a0.8,0.8 0 1,0 -1.6,0M185.1,195.9a0.8,0.8 0 1,0 1.6,0a0.8,0.8 0 1,0 -1.6,0M181.8,194.9a0.8,0.8 0 1,0 1.6,0a0.8,0.8 0 1,0 -1.6,0M178.6,193.8a0.8,0.8 0 1,0 1.6,0a0.8,0.8 0 1,0 -1.6,0M175.4,192.7a0.8,0.8 0 1,0 1.6,0a0.8,0.8 0 1,0 -1.6,0M172.2,191.6a0.8,0.8 0 1,0 1.6,0a0.8,0.8 0 1,0 -1.6,0M168.9,190.5a0.8,0.8 0 1,0 1.6,0a0.8,0.8 0 1,0 -1.6,0M165.7,189.4a0.8,0.8 0 1,0 1.6,0a0.8,0.8 0 1,0 -1.6,0M162.5,188.3a0.8,0.8 0 1,0 1.6,0a0.8,0.8 0 1,0 -1.6,0M159.3,187.2a0.8,0.8 0 1,0 1.6,0a0.8,0.8 0 1,0 -1.6,0M156.1,186.2a0.8,0.8 0 1,0 1.6,0a0.8,0.8 0 1,0 -1.6,0M152.9,185.1a0.8,0.8 0 1,0 1.6,0a0.8,0.8 0 1,0 -1.6,0M149.6,184.0a0.8,0.8 0 1,0 1.6,0a0.8,0.8 0 1,0 -1.6,0M146.4,182.8a0.8,0.8 0 1,0 1.6,0a0.8,0.8 0 1,0 -1.6,0M143.3,181.6a0.8,0.8 0 1,0 1.6,0a0.8,0.8 0 1,0 -1.6,0M140.1,180.4a0.8,0.8 0 1,0 1.6,0a0.8,0.8 0 1,0 -1.6,0M136.9,179.2a0.8,0.8 0 1,0 1.6,0a0.8,0.8 0 1,0 -1.6,0M133.7,178.0a0.8,0.8 0 1,0 1.6,0a0.8,0.8 0 1,0 -1.6,0M130.5,176.8a0.8,0.8 0 1,0 1.6,0a0.8,0.8 0 1,0 -1.6,0M127.3,175.6a0.8,0.8 0 1,0 1.6,0a0.8,0.8 0 1,0 -1.6,0M124.2,174.4a0.8,0.8 0 1,0 1.6,0a0.8,0.8 0 1,0 -1.6,0M121.0,173.2a0.8,0.8 0 1,0 1.6,0a0.8,0.8 0 1,0 -1.6,0M117.8,172.0a0.8,0.8 0 1,0 1.6,0a0.8,0.8 0 1,0 -1.6,0M114.6,170.8a0.8,0.8 0 1,0 1.6,0a0.8,0.8 0 1,0 -1.6,0M111.4,169.6a0.8,0.8 0 1,0 1.6,0a0.8,0.8 0 1,0 -1.6,0M108.2,168.4a0.8,0.8 0 1,0 1.6,0a0.8,0.8 0 1,0 -1.6,0M105.1,167.2a0.8,0.8 0 1,0 1.6,0a0.8,0.8 0 1,0 -1.6,0M101.9,166.1a0.8,0.8 0 1,0 1.6,0a0.8,0.8 0 1,0 -1.6,0M98.7,164.9a0.8,0.8 0 1,0 1.6,0a0.8,0.8 0 1,0 -1.6,0M95.5,163.7a0.8,0.8 0 1,0 1.6,0a0.8,0.8 0 1,0 -1.6,0M92.3,162.5a0.8,0.8 0 1,0 1.6,0a0.8,0.8 0 1,0 -1.6,0M89.2,161.3a0.8,0.8 0 1,0 1.6,0a0.8,0.8 0 1,0 -1.6,0M86.0,160.1a0.8,0.8 0 1,0 1.6,0a0.8,0.8 0 1,0 -1.6,0M82.8,158.9a0.8,0.8 0 1,0 1.6,0a0.8,0.8 0 1,0 -1.6,0M79.6,157.7a0.8,0.8 0 1,0 1.6,0a0.8,0.8 0 1,0 -1.6,0M76.4,156.5a0.8,0.8 0 1,0 1.6,0a0.8,0.8 0 1,0 -1.6,0M73.2,155.3a0.8,0.8 0 1,0 1.6,0a0.8,0.8 0 1,0 -1.6,0M70.1,154.1a0.8,0.8 0 1,0 1.6,0a0.8,0.8 0 1,0 -1.6,0M66.9,152.9a0.8,0.8 0 1,0 1.6,0a0.8,0.8 0 1,0 -1.6,0M63.7,151.7a0.8,0.8 0 1,0 1.6,0a0.8,0.8 0 1,0 -1.6,0M60.5,150.5a0.8,0.8 0 1,0 1.6,0a0.8,0.8 0 1,0 -1.6,0M57.3,149.3a0.8,0.8 0 1,0 1.6,0a0.8,0.8 0 1,0 -1.6,0M54.1,148.1a0.8,0.8 0 1,0 1.6,0a0.8,0.8 0 1,0 -1.6,0M51.0,146.9a0.8,0.8 0 1,0 1.6,0a0.8,0.8 0 1,0 -1.6,0M47.8,145.7a0.8,0.8 0 1,0 1.6,0a0.8,0.8 0 1,0 -1.6,0M44.6,144.6a0.8,0.8 0 1,0 1.6,0a0.8,0.8 0 1,0 -1.6,0M41.4,143.4a0.8,0.8 0 1,0 1.6,0a0.8,0.8 0 1,0 -1.6,0" fill="#7dff7d"/>
<polyline points="226.0,227.9 248.6,197.4 255.5,185.5" fill="none" stroke="#00ff00" stroke-width="1.8" stroke-linejoin="round"/>
<rect x="224.0" y="226.0" width="3.9" height="3.9" rx="1.2" fill="#00ff00" stroke="#00ff00" stroke-width="1.9"/>
<rect x="226.1" y="223.2" width="3.9" height="3.9" rx="1.2" fill="#00ff00" stroke="#00ff00" stroke-width="1.9"/>
<rect x="228.1" y="220.5" width="3.9" height="3.9" rx="1.2" fill="#00ff00" stroke="#00ff00" stroke-width="1.9"/>
<rect x="230.1" y="217.8" width="3.9" height="3.9" rx="1.2" fill="#00ff00" stroke="#00ff00" stroke-width="1.9"/>
<rect x="232.1" y="215.0" width="3.9" height="3.9" rx="1.2" fill="#00ff00" stroke="#00ff00" stroke-width="1.9"/>
<rect x="234.2" y="212.3" width="3.9" height="3.9" rx="1.2" fill="#00ff00" stroke="#00ff00" stroke-width="1.9"/>
<rect x="236.2" y="209.6" width="3.9" height="3.9" rx="1.2" fill="#00ff00" stroke="#00ff00" stroke-width="1.9"/>
<rect x="238.2" y="206.8" width="3.9" height="3.9" rx="1.2" fill="#00ff00" stroke="#00ff00" stroke-width="1.9"/>
<rect x="240.2" y="204.1" width="3.9" height="3.9" rx="1.2" fill="#00ff00" stroke="#00ff00" stroke-width="1.9"/>
<rect x="242.3" y="201.4" width="3.9" height="3.9" rx="1.2" fill="#00ff00" stroke="#00ff00" stroke-width="1.9"/>
<rect x="244.3" y="198.6" width="3.9" height="3.9" rx="1.2" fill="#00ff00" stroke="#00ff00" stroke-width="1.9"/>
<rect x="246.3" y="195.9" width="3.9" height="3.9" rx="1.2" fill="#00ff00" stroke="#00ff00" stroke-width="1.9"/>
<rect x="248.1" y="193.0" width="3.9" height="3.9" rx="1.2" fill="#00ff00" stroke="#00ff00" stroke-width="1.9"/>
<rect x="249.8" y="190.1" width="3.9" height="3.9" rx="1.2" fill="#00ff00" stroke="#00ff00" stroke-width="1.9"/>
<rect x="251.5" y="187.1" width="3.9" height="3.9" rx="1.2" fill="#00ff00" stroke="#00ff00" stroke-width="1.9"/>
<rect x="253.2" y="184.2" width="3.9" height="3.9" rx="1.2" fill="#00ff00" stroke="#00ff00" stroke-width="1.9"/>
<polyline points="227.6,229.1 250.2,198.6 257.3,186.5" fill="none" stroke="#00ff00" stroke-width="1.8" stroke-linejoin="round"/>
<rect x="226.7" y="225.8" width="3.9" height="3.9" rx="1.2" fill="#00ff00" stroke="#00ff00" stroke-width="1.9"/>
<rect x="228.7" y="223.0" width="3.9" height="3.9" rx="1.2" fill="#00ff00" stroke="#00ff00" stroke-width="1.9"/>
<rect x="230.7" y="220.3" width="3.9" height="3.9" rx="1.2" fill="#00ff00" stroke="#00ff00" stroke-width="1.9"/>
<rect x="232.7" y="217.6" width="3.9" height="3.9" rx="1.2" fill="#00ff00" stroke="#00ff00" stroke-width="1.9"/>
<rect x="234.8" y="214.9" width="3.9" height="3.9" rx="1.2" fill="#00ff00" stroke="#00ff00" stroke-width="1.9"/>
<rect x="236.8" y="212.1" width="3.9" height="3.9" rx="1.2" fill="#00ff00" stroke="#00ff00" stroke-width="1.9"/>
<rect x="238.8" y="209.4" width="3.9" height="3.9" rx="1.2" fill="#00ff00" stroke="#00ff00" stroke-width="1.9"/>
<rect x="240.8" y="206.7" width="3.9" height="3.9" rx="1.2" fill="#00ff00" stroke="#00ff00" stroke-width="1.9"/>
<rect x="242.9" y="203.9" width="3.9" height="3.9" rx="1.2" fill="#00ff00" stroke="#00ff00" stroke-width="1.9"/>
<rect x="244.9" y="201.2" width="3.9" height="3.9" rx="1.2" fill="#00ff00" stroke="#00ff00" stroke-width="1.9"/>
<rect x="246.9" y="198.5" width="3.9" height="3.9" rx="1.2" fill="#00ff00" stroke="#00ff00" stroke-width="1.9"/>
<rect x="248.8" y="195.7" width="3.9" height="3.9" rx="1.2" fill="#00ff00" stroke="#00ff00" stroke-width="1.9"/>
<rect x="250.5" y="192.7" width="3.9" height="3.9" rx="1.2" fill="#00ff00" stroke="#00ff00" stroke-width="1.9"/>
<rect x="252.3" y="189.8" width="3.9" height="3.9" rx="1.2" fill="#00ff00" stroke="#00ff00" stroke-width="1.9"/>
<rect x="254.0" y="186.9" width="3.9" height="3.9" rx="1.2" fill="#00ff00" stroke="#00ff00" stroke-width="1.9"/>
<polyline points="255.1,185.2 258.6,179.0 271.0,164.9 276.0,155.6 291.9,131.6 298.4,123.1" fill="none" stroke="#00ff00" stroke-width="1.8" stroke-linejoin="round"/>
<rect x="253.1" y="183.3" width="3.9" height="3.9" rx="1.2" fill="#00ff00" stroke="#00ff00" stroke-width="1.9"/>
<rect x="254.8" y="180.3" width="3.9" height="3.9" rx="1.2" fill="#00ff00" stroke="#00ff00" stroke-width="1.9"/>
<rect x="256.5" y="177.4" width="3.9" height="3.9" rx="1.2" fill="#00ff00" stroke="#00ff00" stroke-width="1.9"/>
<rect x="258.7" y="174.8" width="3.9" height="3.9" rx="1.2" fill="#00ff00" stroke="#00ff00" stroke-width="1.9"/>
<rect x="260.9" y="172.2" width="3.9" height="3.9" rx="1.2" fill="#00ff00" stroke="#00ff00" stroke-width="1.9"/>
<rect x="263.1" y="169.7" width="3.9" height="3.9" rx="1.2" fill="#00ff00" stroke="#00ff00" stroke-width="1.9"/>
<rect x="265.4" y="167.1" width="3.9" height="3.9" rx="1.2" fill="#00ff00" stroke="#00ff00" stroke-width="1.9"/>
<rect x="267.6" y="164.5" width="3.9" height="3.9" rx="1.2" fill="#00ff00" stroke="#00ff00" stroke-width="1.9"/>
<rect x="269.6" y="161.8" width="3.9" height="3.9" rx="1.2" fill="#00ff00" stroke="#00ff00" stroke-width="1.9"/>
<rect x="271.2" y="158.8" width="3.9" height="3.9" rx="1.2" fill="#00ff00" stroke="#00ff00" stroke-width="1.9"/>
<rect x="272.8" y="155.8" width="3.9" height="3.9" rx="1.2" fill="#00ff00" stroke="#00ff00" stroke-width="1.9"/>
<rect x="274.5" y="152.9" width="3.9" height="3.9" rx="1.2" fill="#00ff00" stroke="#00ff00" stroke-width="1.9"/>
<rect x="276.4" y="150.1" width="3.9" height="3.9" rx="1.2" fill="#00ff00" stroke="#00ff00" stroke-width="1.9"/>
<rect x="278.3" y="147.2" width="3.9" height="3.9" rx="1.2" fill="#00ff00" stroke="#00ff00" stroke-width="1.9"/>
<rect x="280.2" y="144.4" width="3.9" height="3.9" rx="1.2" fill="#00ff00" stroke="#00ff00" stroke-width="1.9"/>
<rect x="282.1" y="141.6" width="3.9" height="3.9" rx="1.2" fill="#00ff00" stroke="#00ff00" stroke-width="1.9"/>
<rect x="283.9" y="138.7" width="3.9" height="3.9" rx="1.2" fill="#00ff00" stroke="#00ff00" stroke-width="1.9"/>
<rect x="285.8" y="135.9" width="3.9" height="3.9" rx="1.2" fill="#00ff00" stroke="#00ff00" stroke-width="1.9"/>
<rect x="287.7" y="133.1" width="3.9" height="3.9" rx="1.2" fill="#00ff00" stroke="#00ff00" stroke-width="1.9"/>
<rect x="289.6" y="130.2" width="3.9" height="3.9" rx="1.2" fill="#00ff00" stroke="#00ff00" stroke-width="1.9"/>
<rect x="291.6" y="127.5" width="3.9" height="3.9" rx="1.2" fill="#00ff00" stroke="#00ff00" stroke-width="1.9"/>
<rect x="293.7" y="124.8" width="3.9" height="3.9" rx="1.2" fill="#00ff00" stroke="#00ff00" stroke-width="1.9"/>
<rect x="295.7" y="122.1" width="3.9" height="3.9" rx="1.2" fill="#00ff00" stroke="#00ff00" stroke-width="1.9"/>
<polyline points="257.7,186.8 261.0,181.0 273.4,166.7 278.6,157.2 294.5,133.4 300.8,124.9" fill="none" stroke="#00ff00" stroke-width="1.8" stroke-linejoin="round"/>
<rect x="256.6" y="183.3" width="3.9" height="3.9" rx="1.2" fill="#00ff00" stroke="#00ff00" stroke-width="1.9"/>
<rect x="258.3" y="180.4" width="3.9" height="3.9" rx="1.2" fill="#00ff00" stroke="#00ff00" stroke-width="1.9"/>
<rect x="260.3" y="177.6" width="3.9" height="3.9" rx="1.2" fill="#00ff00" stroke="#00ff00" stroke-width="1.9"/>
<rect x="262.5" y="175.1" width="3.9" height="3.9" rx="1.2" fill="#00ff00" stroke="#00ff00" stroke-width="1.9"/>
<rect x="264.7" y="172.5" width="3.9" height="3.9" rx="1.2" fill="#00ff00" stroke="#00ff00" stroke-width="1.9"/>
<rect x="267.0" y="169.9" width="3.9" height="3.9" rx="1.2" fill="#00ff00" stroke="#00ff00" stroke-width="1.9"/>
<rect x="269.2" y="167.4" width="3.9" height="3.9" rx="1.2" fill="#00ff00" stroke="#00ff00" stroke-width="1.9"/>
<rect x="271.5" y="164.8" width="3.9" height="3.9" rx="1.2" fill="#00ff00" stroke="#00ff00" stroke-width="1.9"/>
<rect x="273.1" y="161.8" width="3.9" height="3.9" rx="1.2" fill="#00ff00" stroke="#00ff00" stroke-width="1.9"/>
<rect x="274.7" y="158.9" width="3.9" height="3.9" rx="1.2" fill="#00ff00" stroke="#00ff00" stroke-width="1.9"/>
<rect x="276.3" y="155.9" width="3.9" height="3.9" rx="1.2" fill="#00ff00" stroke="#00ff00" stroke-width="1.9"/>
<rect x="278.2" y="153.0" width="3.9" height="3.9" rx="1.2" fill="#00ff00" stroke="#00ff00" stroke-width="1.9"/>
<rect x="280.1" y="150.2" width="3.9" height="3.9" rx="1.2" fill="#00ff00" stroke="#00ff00" stroke-width="1.9"/>
<rect x="281.9" y="147.3" width="3.9" height="3.9" rx="1.2" fill="#00ff00" stroke="#00ff00" stroke-width="1.9"/>
<rect x="283.8" y="144.5" width="3.9" height="3.9" rx="1.2" fill="#00ff00" stroke="#00ff00" stroke-width="1.9"/>
<rect x="285.7" y="141.7" width="3.9" height="3.9" rx="1.2" fill="#00ff00" stroke="#00ff00" stroke-width="1.9"/>
<rect x="287.6" y="138.8" width="3.9" height="3.9" rx="1.2" fill="#00ff00" stroke="#00ff00" stroke-width="1.9"/>
<rect x="289.5" y="136.0" width="3.9" height="3.9" rx="1.2" fill="#00ff00" stroke="#00ff00" stroke-width="1.9"/>
<rect x="291.4" y="133.2" width="3.9" height="3.9" rx="1.2" fill="#00ff00" stroke="#00ff00" stroke-width="1.9"/>
<rect x="293.3" y="130.4" width="3.9" height="3.9" rx="1.2" fill="#00ff00" stroke="#00ff00" stroke-width="1.9"/>
<rect x="295.3" y="127.7" width="3.9" height="3.9" rx="1.2" fill="#00ff00" stroke="#00ff00" stroke-width="1.9"/>
<rect x="297.4" y="125.0" width="3.9" height="3.9" rx="1.2" fill="#00ff00" stroke="#00ff00" stroke-width="1.9"/>
<polyline points="298.5,123.3 320.5,89.3" fill="none" stroke="#00ff00" stroke-width="1.8" stroke-linejoin="round"/>
<rect x="296.6" y="121.3" width="3.9" height="3.9" rx="1.2" fill="#00ff00" stroke="#00ff00" stroke-width="1.9"/>
<rect x="298.4" y="118.5" width="3.9" height="3.9" rx="1.2" fill="#00ff00" stroke="#00ff00" stroke-width="1.9"/>
<rect x="300.3" y="115.6" width="3.9" height="3.9" rx="1.2" fill="#00ff00" stroke="#00ff00" stroke-width="1.9"/>
<rect x="302.1" y="112.8" width="3.9" height="3.9" rx="1.2" fill="#00ff00" stroke="#00ff00" stroke-width="1.9"/>
<rect x="303.9" y="109.9" width="3.9" height="3.9" rx="1.2" fill="#00ff00" stroke="#00ff00" stroke-width="1.9"/>
<rect x="305.8" y="107.1" width="3.9" height="3.9" rx="1.2" fill="#00ff00" stroke="#00ff00" stroke-width="1.9"/>
<rect x="307.6" y="104.2" width="3.9" height="3.9" rx="1.2" fill="#00ff00" stroke="#00ff00" stroke-width="1.9"/>
<rect x="309.5" y="101.4" width="3.9" height="3.9" rx="1.2" fill="#00ff00" stroke="#00ff00" stroke-width="1.9"/>
<rect x="311.3" y="98.5" width="3.9" height="3.9" rx="1.2" fill="#00ff00" stroke="#00ff00" stroke-width="1.9"/>
<rect x="313.2" y="95.7" width="3.9" height="3.9" rx="1.2" fill="#00ff00" stroke="#00ff00" stroke-width="1.9"/>
<rect x="315.0" y="92.8" width="3.9" height="3.9" rx="1.2" fill="#00ff00" stroke="#00ff00" stroke-width="1.9"/>
<rect x="316.9" y="89.9" width="3.9" height="3.9" rx="1.2" fill="#00ff00" stroke="#00ff00" stroke-width="1.9"/>
<polyline points="300.7,124.7 322.7,90.7" fill="none" stroke="#00ff00" stroke-width="1.8" stroke-linejoin="round"/>
<rect x="299.7" y="121.3" width="3.9" height="3.9" rx="1.2" fill="#00ff00" stroke="#00ff00" stroke-width="1.9"/>
<rect x="301.5" y="118.5" width="3.9" height="3.9" rx="1.2" fill="#00ff00" stroke="#00ff00" stroke-width="1.9"/>
<rect x="303.4" y="115.6" width="3.9" height="3.9" rx="1.2" fill="#00ff00" stroke="#00ff00" stroke-width="1.9"/>
<rect x="305.2" y="112.8" width="3.9" height="3.9" rx="1.2" fill="#00ff00" stroke="#00ff00" stroke-width="1.9"/>
<rect x="307.1" y="109.9" width="3.9" height="3.9" rx="1.2" fill="#00ff00" stroke="#00ff00" stroke-width="1.9"/>
<rect x="308.9" y="107.1" width="3.9" height="3.9" rx="1.2" fill="#00ff00" stroke="#00ff00" stroke-width="1.9"/>
<rect x="310.7" y="104.2" width="3.9" height="3.9" rx="1.2" fill="#00ff00" stroke="#00ff00" stroke-width="1.9"/>
<rect x="312.6" y="101.3" width="3.9" height="3.9" rx="1.2" fill="#00ff00" stroke="#00ff00" stroke-width="1.9"/>
<rect x="314.4" y="98.5" width="3.9" height="3.9" rx="1.2" fill="#00ff00" stroke="#00ff00" stroke-width="1.9"/>
<rect x="316.3" y="95.6" width="3.9" height="3.9" rx="1.2" fill="#00ff00" stroke="#00ff00" stroke-width="1.9"/>
<rect x="318.1" y="92.8" width="3.9" height="3.9" rx="1.2" fill="#00ff00" stroke="#00ff00" stroke-width="1.9"/>
<rect x="320.0" y="89.9" width="3.9" height="3.9" rx="1.2" fill="#00ff00" stroke="#00ff00" stroke-width="1.9"/>
<polyline points="320.8,89.4 353.5,39.9" fill="none" stroke="#00ff00" stroke-width="1.8" stroke-linejoin="round"/>
<rect x="318.8" y="87.5" width="3.9" height="3.9" rx="1.2" fill="#00ff00" stroke="#00ff00" stroke-width="1.9"/>
<rect x="320.7" y="84.7" width="3.9" height="3.9" rx="1.2" fill="#00ff00" stroke="#00ff00" stroke-width="1.9"/>
<rect x="322.6" y="81.8" width="3.9" height="3.9" rx="1.2" fill="#00ff00" stroke="#00ff00" stroke-width="1.9"/>
<rect x="324.4" y="79.0" width="3.9" height="3.9" rx="1.2" fill="#00ff00" stroke="#00ff00" stroke-width="1.9"/>
<rect x="326.3" y="76.2" width="3.9" height="3.9" rx="1.2" fill="#00ff00" stroke="#00ff00" stroke-width="1.9"/>
<rect x="328.2" y="73.3" width="3.9" height="3.9" rx="1.2" fill="#00ff00" stroke="#00ff00" stroke-width="1.9"/>
<rect x="330.1" y="70.5" width="3.9" height="3.9" rx="1.2" fill="#00ff00" stroke="#00ff00" stroke-width="1.9"/>
<rect x="331.9" y="67.6" width="3.9" height="3.9" rx="1.2" fill="#00ff00" stroke="#00ff00" stroke-width="1.9"/>
<rect x="333.8" y="64.8" width="3.9" height="3.9" rx="1.2" fill="#00ff00" stroke="#00ff00" stroke-width="1.9"/>
<rect x="335.7" y="62.0" width="3.9" height="3.9" rx="1.2" fill="#00ff00" stroke="#00ff00" stroke-width="1.9"/>
<rect x="337.6" y="59.1" width="3.9" height="3.9" rx="1.2" fill="#00ff00" stroke="#00ff00" stroke-width="1.9"/>
<rect x="339.4" y="56.3" width="3.9" height="3.9" rx="1.2" fill="#00ff00" stroke="#00ff00" stroke-width="1.9"/>
<rect x="341.3" y="53.5" width="3.9" height="3.9" rx="1.2" fill="#00ff00" stroke="#00ff00" stroke-width="1.9"/>
<rect x="343.2" y="50.6" width="3.9" height="3.9" rx="1.2" fill="#00ff00" stroke="#00ff00" stroke-width="1.9"/>
<rect x="345.1" y="47.8" width="3.9" height="3.9" rx="1.2" fill="#00ff00" stroke="#00ff00" stroke-width="1.9"/>
<rect x="346.9" y="44.9" width="3.9" height="3.9" rx="1.2" fill="#00ff00" stroke="#00ff00" stroke-width="1.9"/>
<rect x="348.8" y="42.1" width="3.9" height="3.9" rx="1.2" fill="#00ff00" stroke="#00ff00" stroke-width="1.9"/>
<rect x="350.7" y="39.3" width="3.9" height="3.9" rx="1.2" fill="#00ff00" stroke="#00ff00" stroke-width="1.9"/>
<polyline points="322.4,90.6 355.1,41.1" fill="none" stroke="#00ff00" stroke-width="1.8" stroke-linejoin="round"/>
<rect x="321.4" y="87.2" width="3.9" height="3.9" rx="1.2" fill="#00ff00" stroke="#00ff00" stroke-width="1.9"/>
<rect x="323.3" y="84.3" width="3.9" height="3.9" rx="1.2" fill="#00ff00" stroke="#00ff00" stroke-width="1.9"/>
<rect x="325.2" y="81.5" width="3.9" height="3.9" rx="1.2" fill="#00ff00" stroke="#00ff00" stroke-width="1.9"/>
<rect x="327.0" y="78.7" width="3.9" height="3.9" rx="1.2" fill="#00ff00" stroke="#00ff00" stroke-width="1.9"/>
<rect x="328.9" y="75.8" width="3.9" height="3.9" rx="1.2" fill="#00ff00" stroke="#00ff00" stroke-width="1.9"/>
<rect x="330.8" y="73.0" width="3.9" height="3.9" rx="1.2" fill="#00ff00" stroke="#00ff00" stroke-width="1.9"/>
<rect x="332.7" y="70.2" width="3.9" height="3.9" rx="1.2" fill="#00ff00" stroke="#00ff00" stroke-width="1.9"/>
<rect x="334.5" y="67.3" width="3.9" height="3.9" rx="1.2" fill="#00ff00" stroke="#00ff00" stroke-width="1.9"/>
<rect x="336.4" y="64.5" width="3.9" height="3.9" rx="1.2" fill="#00ff00" stroke="#00ff00" stroke-width="1.9"/>
<rect x="338.3" y="61.7" width="3.9" height="3.9" rx="1.2" fill="#00ff00" stroke="#00ff00" stroke-width="1.9"/>
<rect x="340.2" y="58.8" width="3.9" height="3.9" rx="1.2" fill="#00ff00" stroke="#00ff00" stroke-width="1.9"/>
<rect x="342.0" y="56.0" width="3.9" height="3.9" rx="1.2" fill="#00ff00" stroke="#00ff00" stroke-width="1.9"/>
<rect x="343.9" y="53.1" width="3.9" height="3.9" rx="1.2" fill="#00ff00" stroke="#00ff00" stroke-width="1.9"/>
<rect x="345.8" y="50.3" width="3.9" height="3.9" rx="1.2" fill="#00ff00" stroke="#00ff00" stroke-width="1.9"/>
<rect x="347.7" y="47.5" width="3.9" height="3.9" rx="1.2" fill="#00ff00" stroke="#00ff00" stroke-width="1.9"/>
<rect x="349.5" y="44.6" width="3.9" height="3.9" rx="1.2" fill="#00ff00" stroke="#00ff00" stroke-width="1.9"/>
<rect x="351.4" y="41.8" width="3.9" height="3.9" rx="1.2" fill="#00ff00" stroke="#00ff00" stroke-width="1.9"/>
<polyline points="354.3,40.5 357.0,35.5 361.7,33.1 366.0,34.0 374.2,39.0 383.2,45.8 372.7,64.8" fill="none" stroke="#00ff00" stroke-width="1.8" stroke-linejoin="round"/>
<rect x="352.0" y="38.4" width="3.9" height="3.9" rx="1.2" fill="#00ff00" stroke="#00ff00" stroke-width="1.9"/>
<rect x="354.3" y="35.9" width="3.9" height="3.9" rx="1.2" fill="#00ff00" stroke="#00ff00" stroke-width="1.9"/>
<rect x="355.6" y="32.8" width="3.9" height="3.9" rx="1.2" fill="#00ff00" stroke="#00ff00" stroke-width="1.9"/>
<rect x="358.9" y="32.0" width="3.9" height="3.9" rx="1.2" fill="#00ff00" stroke="#00ff00" stroke-width="1.9"/>
<rect x="362.0" y="31.2" width="3.9" height="3.9" rx="1.2" fill="#00ff00" stroke="#00ff00" stroke-width="1.9"/>
<rect x="364.9" y="33.0" width="3.9" height="3.9" rx="1.2" fill="#00ff00" stroke="#00ff00" stroke-width="1.9"/>
<rect x="368.1" y="34.0" width="3.9" height="3.9" rx="1.2" fill="#00ff00" stroke="#00ff00" stroke-width="1.9"/>
<rect x="370.4" y="36.4" width="3.9" height="3.9" rx="1.2" fill="#00ff00" stroke="#00ff00" stroke-width="1.9"/>
<rect x="373.6" y="37.6" width="3.9" height="3.9" rx="1.2" fill="#00ff00" stroke="#00ff00" stroke-width="1.9"/>
<rect x="375.8" y="40.2" width="3.9" height="3.9" rx="1.2" fill="#00ff00" stroke="#00ff00" stroke-width="1.9"/>
<rect x="378.9" y="41.6" width="3.9" height="3.9" rx="1.2" fill="#00ff00" stroke="#00ff00" stroke-width="1.9"/>
<rect x="380.8" y="44.0" width="3.9" height="3.9" rx="1.2" fill="#00ff00" stroke="#00ff00" stroke-width="1.9"/>
<rect x="380.0" y="47.0" width="3.9" height="3.9" rx="1.2" fill="#00ff00" stroke="#00ff00" stroke-width="1.9"/>
<rect x="377.7" y="49.5" width="3.9" height="3.9" rx="1.2" fill="#00ff00" stroke="#00ff00" stroke-width="1.9"/>
<rect x="376.8" y="52.8" width="3.9" height="3.9" rx="1.2" fill="#00ff00" stroke="#00ff00" stroke-width="1.9"/>
<rect x="374.5" y="55.3" width="3.9" height="3.9" rx="1.2" fill="#00ff00" stroke="#00ff00" stroke-width="1.9"/>
<rect x="373.6" y="58.5" width="3.9" height="3.9" rx="1.2" fill="#00ff00" stroke="#00ff00" stroke-width="1.9"/>
<rect x="371.3" y="61.0" width="3.9" height="3.9" rx="1.2" fill="#00ff00" stroke="#00ff00" stroke-width="1.9"/>
<polyline points="373.7,65.2 360.3,96.2 345.0,130.4 320.3,193.2 301.6,233.6" fill="none" stroke="#00ff00" stroke-width="1.8" stroke-linejoin="round"/>
<rect x="371.7" y="63.3" width="3.9" height="3.9" rx="1.2" fill="#00ff00" stroke="#00ff00" stroke-width="1.9"/>
<rect x="370.4" y="66.4" width="3.9" height="3.9" rx="1.2" fill="#00ff00" stroke="#00ff00" stroke-width="1.9"/>
<rect x="369.0" y="69.5" width="3.9" height="3.9" rx="1.2" fill="#00ff00" stroke="#00ff00" stroke-width="1.9"/>
<rect x="367.7" y="72.6" width="3.9" height="3.9" rx="1.2" fill="#00ff00" stroke="#00ff00" stroke-width="1.9"/>
<rect x="366.3" y="75.8" width="3.9" height="3.9" rx="1.2" fill="#00ff00" stroke="#00ff00" stroke-width="1.9"/>
<rect x="365.0" y="78.9" width="3.9" height="3.9" rx="1.2" fill="#00ff00" stroke="#00ff00" stroke-width="1.9"/>
<rect x="363.6" y="82.0" width="3.9" height="3.9" rx="1.2" fill="#00ff00" stroke="#00ff00" stroke-width="1.9"/>
<rect x="362.3" y="85.1" width="3.9" height="3.9" rx="1.2" fill="#00ff00" stroke="#00ff00" stroke-width="1.9"/>
<rect x="360.9" y="88.2" width="3.9" height="3.9" rx="1.2" fill="#00ff00" stroke="#00ff00" stroke-width="1.9"/>
<rect x="359.6" y="91.4" width="3.9" height="3.9" rx="1.2" fill="#00ff00" stroke="#00ff00" stroke-width="1.9"/>
<rect x="358.2" y="94.5" width="3.9" height="3.9" rx="1.2" fill="#00ff00" stroke="#00ff00" stroke-width="1.9"/>
<rect x="356.8" y="97.6" width="3.9" height="3.9" rx="1.2" fill="#00ff00" stroke="#00ff00" stroke-width="1.9"/>
<rect x="355.4" y="100.7" width="3.9" height="3.9" rx="1.2" fill="#00ff00" stroke="#00ff00" stroke-width="1.9"/>
<rect x="354.1" y="103.8" width="3.9" height="3.9" rx="1.2" fill="#00ff00" stroke="#00ff00" stroke-width="1.9"/>
<rect x="352.7" y="106.9" width="3.9" height="3.9" rx="1.2" fill="#00ff00" stroke="#00ff00" stroke-width="1.9"/>
<rect x="351.3" y="110.0" width="3.9" height="3.9" rx="1.2" fill="#00ff00" stroke="#00ff00" stroke-width="1.9"/>
<rect x="349.9" y="113.1" width="3.9" height="3.9" rx="1.2" fill="#00ff00" stroke="#00ff00" stroke-width="1.9"/>
<rect x="348.5" y="116.2" width="3.9" height="3.9" rx="1.2" fill="#00ff00" stroke="#00ff00" stroke-width="1.9"/>
<rect x="347.1" y="119.3" width="3.9" height="3.9" rx="1.2" fill="#00ff00" stroke="#00ff00" stroke-width="1.9"/>
<rect x="345.7" y="122.4" width="3.9" height="3.9" rx="1.2" fill="#00ff00" stroke="#00ff00" stroke-width="1.9"/>
<rect x="344.3" y="125.5" width="3.9" height="3.9" rx="1.2" fill="#00ff00" stroke="#00ff00" stroke-width="1.9"/>
<rect x="343.0" y="128.6" width="3.9" height="3.9" rx="1.2" fill="#00ff00" stroke="#00ff00" stroke-width="1.9"/>
<rect x="341.7" y="131.8" width="3.9" height="3.9" rx="1.2" fill="#00ff00" stroke="#00ff00" stroke-width="1.9"/>
<rect x="340.5" y="134.9" width="3.9" height="3.9" rx="1.2" fill="#00ff00" stroke="#00ff00" stroke-width="1.9"/>
<rect x="339.2" y="138.1" width="3.9" height="3.9" rx="1.2" fill="#00ff00" stroke="#00ff00" stroke-width="1.9"/>
<rect x="338.0" y="141.3" width="3.9" height="3.9" rx="1.2" fill="#00ff00" stroke="#00ff00" stroke-width="1.9"/>
<rect x="336.7" y="144.4" width="3.9" height="3.9" rx="1.2" fill="#00ff00" stroke="#00ff00" stroke-width="1.9"/>
<rect x="335.5" y="147.6" width="3.9" height="3.9" rx="1.2" fill="#00ff00" stroke="#00ff00" stroke-width="1.9"/>
<rect x="334.2" y="150.8" width="3.9" height="3.9" rx="1.2" fill="#00ff00" stroke="#00ff00" stroke-width="1.9"/>
<rect x="333.0" y="153.9" width="3.9" height="3.9" rx="1.2" fill="#00ff00" stroke="#00ff00" stroke-width="1.9"/>
<rect x="331.8" y="157.1" width="3.9" height="3.9" rx="1.2" fill="#00ff00" stroke="#00ff00" stroke-width="1.9"/>
<rect x="330.5" y="160.3" width="3.9" height="3.9" rx="1.2" fill="#00ff00" stroke="#00ff00" stroke-width="1.9"/>
<rect x="329.3" y="163.4" width="3.9" height="3.9" rx="1.2" fill="#00ff00" stroke="#00ff00" stroke-width="1.9"/>
<rect x="328.0" y="166.6" width="3.9" height="3.9" rx="1.2" fill="#00ff00" stroke="#00ff00" stroke-width="1.9"/>
<rect x="326.8" y="169.7" width="3.9" height="3.9" rx="1.2" fill="#00ff00" stroke="#00ff00" stroke-width="1.9"/>
<rect x="325.5" y="172.9" width="3.9" height="3.9" rx="1.2" fill="#00ff00" stroke="#00ff00" stroke-width="1.9"/>
<rect x="324.3" y="176.1" width="3.9" height="3.9" rx="1.2" fill="#00ff00" stroke="#00ff00" stroke-width="1.9"/>
<rect x="323.0" y="179.2" width="3.9" height="3.9" rx="1.2" fill="#00ff00" stroke="#00ff00" stroke-width="1.9"/>
<rect x="321.8" y="182.4" width="3.9" height="3.9" rx="1.2" fill="#00ff00" stroke="#00ff00" stroke-width="1.9"/>
<rect x="320.6" y="185.6" width="3.9" height="3.9" rx="1.2" fill="#00ff00" stroke="#00ff00" stroke-width="1.9"/>
<rect x="319.3" y="188.7" width="3.9" height="3.9" rx="1.2" fill="#00ff00" stroke="#00ff00" stroke-width="1.9"/>
<rect x="318.0" y="191.9" width="3.9" height="3.9" rx="1.2" fill="#00ff00" stroke="#00ff00" stroke-width="1.9"/>
<rect x="316.6" y="195.0" width="3.9" height="3.9" rx="1.2" fill="#00ff00" stroke="#00ff00" stroke-width="1.9"/>
<rect x="315.2" y="198.1" width="3.9" height="3.9" rx="1.2" fill="#00ff00" stroke="#00ff00" stroke-width="1.9"/>
<rect x="313.7" y="201.1" width="3.9" height="3.9" rx="1.2" fill="#00ff00" stroke="#00ff00" stroke-width="1.9"/>
<rect x="312.3" y="204.2" width="3.9" height="3.9" rx="1.2" fill="#00ff00" stroke="#00ff00" stroke-width="1.9"/>
<rect x="310.9" y="207.3" width="3.9" height="3.9" rx="1.2" fill="#00ff00" stroke="#00ff00" stroke-width="1.9"/>
<rect x="309.5" y="210.4" width="3.9" height="3.9" rx="1.2" fill="#00ff00" stroke="#00ff00" stroke-width="1.9"/>
<rect x="308.0" y="213.5" width="3.9" height="3.9" rx="1.2" fill="#00ff00" stroke="#00ff00" stroke-width="1.9"/>
<rect x="306.6" y="216.6" width="3.9" height="3.9" rx="1.2" fill="#00ff00" stroke="#00ff00" stroke-width="1.9"/>
<rect x="305.2" y="219.7" width="3.9" height="3.9" rx="1.2" fill="#00ff00" stroke="#00ff00" stroke-width="1.9"/>
<rect x="303.7" y="222.7" width="3.9" height="3.9" rx="1.2" fill="#00ff00" stroke="#00ff00" stroke-width="1.9"/>
<rect x="302.3" y="225.8" width="3.9" height="3.9" rx="1.2" fill="#00ff00" stroke="#00ff00" stroke-width="1.9"/>
<rect x="300.9" y="228.9" width="3.9" height="3.9" rx="1.2" fill="#00ff00" stroke="#00ff00" stroke-width="1.9"/>
<polyline points="371.7,64.4 358.3,95.4 343.0,129.6 318.3,192.4 299.6,232.8" fill="none" stroke="#00ff00" stroke-width="1.8" stroke-linejoin="round"/>
<rect x="369.1" y="64.0" width="3.9" height="3.9" rx="1.2" fill="#00ff00" stroke="#00ff00" stroke-width="1.9"/>
<rect x="367.8" y="67.1" width="3.9" height="3.9" rx="1.2" fill="#00ff00" stroke="#00ff00" stroke-width="1.9"/>
<rect x="366.4" y="70.2" width="3.9" height="3.9" rx="1.2" fill="#00ff00" stroke="#00ff00" stroke-width="1.9"/>
<rect x="365.1" y="73.4" width="3.9" height="3.9" rx="1.2" fill="#00ff00" stroke="#00ff00" stroke-width="1.9"/>
<rect x="363.7" y="76.5" width="3.9" height="3.9" rx="1.2" fill="#00ff00" stroke="#00ff00" stroke-width="1.9"/>
<rect x="362.4" y="79.6" width="3.9" height="3.9" rx="1.2" fill="#00ff00" stroke="#00ff00" stroke-width="1.9"/>
<rect x="361.0" y="82.7" width="3.9" height="3.9" rx="1.2" fill="#00ff00" stroke="#00ff00" stroke-width="1.9"/>
<rect x="359.7" y="85.8" width="3.9" height="3.9" rx="1.2" fill="#00ff00" stroke="#00ff00" stroke-width="1.9"/>
<rect x="358.3" y="89.0" width="3.9" height="3.9" rx="1.2" fill="#00ff00" stroke="#00ff00" stroke-width="1.9"/>
<rect x="357.0" y="92.1" width="3.9" height="3.9" rx="1.2" fill="#00ff00" stroke="#00ff00" stroke-width="1.9"/>
<rect x="355.6" y="95.2" width="3.9" height="3.9" rx="1.2" fill="#00ff00" stroke="#00ff00" stroke-width="1.9"/>
<rect x="354.2" y="98.3" width="3.9" height="3.9" rx="1.2" fill="#00ff00" stroke="#00ff00" stroke-width="1.9"/>
<rect x="352.8" y="101.4" width="3.9" height="3.9" rx="1.2" fill="#00ff00" stroke="#00ff00" stroke-width="1.9"/>
<rect x="351.4" y="104.5" width="3.9" height="3.9" rx="1.2" fill="#00ff00" stroke="#00ff00" stroke-width="1.9"/>
<rect x="350.0" y="107.6" width="3.9" height="3.9" rx="1.2" fill="#00ff00" stroke="#00ff00" stroke-width="1.9"/>
<rect x="348.7" y="110.7" width="3.9" height="3.9" rx="1.2" fill="#00ff00" stroke="#00ff00" stroke-width="1.9"/>
<rect x="347.3" y="113.8" width="3.9" height="3.9" rx="1.2" fill="#00ff00" stroke="#00ff00" stroke-width="1.9"/>
<rect x="345.9" y="116.9" width="3.9" height="3.9" rx="1.2" fill="#00ff00" stroke="#00ff00" stroke-width="1.9"/>
<rect x="344.5" y="120.0" width="3.9" height="3.9" rx="1.2" fill="#00ff00" stroke="#00ff00" stroke-width="1.9"/>
<rect x="343.1" y="123.1" width="3.9" height="3.9" rx="1.2" fill="#00ff00" stroke="#00ff00" stroke-width="1.9"/>
<rect x="341.7" y="126.2" width="3.9" height="3.9" rx="1.2" fill="#00ff00" stroke="#00ff00" stroke-width="1.9"/>
<rect x="340.4" y="129.4" width="3.9" height="3.9" rx="1.2" fill="#00ff00" stroke="#00ff00" stroke-width="1.9"/>
<rect x="339.2" y="132.5" width="3.9" height="3.9" rx="1.2" fill="#00ff00" stroke="#00ff00" stroke-width="1.9"/>
<rect x="337.9" y="135.7" width="3.9" height="3.9" rx="1.2" fill="#00ff00" stroke="#00ff00" stroke-width="1.9"/>
<rect x="336.7" y="138.9" width="3.9" height="3.9" rx="1.2" fill="#00ff00" stroke="#00ff00" stroke-width="1.9"/>
<rect x="335.4" y="142.0" width="3.9" height="3.9" rx="1.2" fill="#00ff00" stroke="#00ff00" stroke-width="1.9"/>
<rect x="334.2" y="145.2" width="3.9" height="3.9" rx="1.2" fill="#00ff00" stroke="#00ff00" stroke-width="1.9"/>
<rect x="332.9" y="148.3" width="3.9" height="3.9" rx="1.2" fill="#00ff00" stroke="#00ff00" stroke-width="1.9"/>
<rect x="331.7" y="151.5" width="3.9" height="3.9" rx="1.2" fill="#00ff00" stroke="#00ff00" stroke-width="1.9"/>
<rect x="330.4" y="154.7" width="3.9" height="3.9" rx="1.2" fill="#00ff00" stroke="#00ff00" stroke-width="1.9"/>
<rect x="329.2" y="157.8" width="3.9" height="3.9" rx="1.2" fill="#00ff00" stroke="#00ff00" stroke-width="1.9"/>
<rect x="328.0" y="161.0" width="3.9" height="3.9" rx="1.2" fill="#00ff00" stroke="#00ff00" stroke-width="1.9"/>
<rect x="326.7" y="164.2" width="3.9" height="3.9" rx="1.2" fill="#00ff00" stroke="#00ff00" stroke-width="1.9"/>
<rect x="325.5" y="167.3" width="3.9" height="3.9" rx="1.2" fill="#00ff00" stroke="#00ff00" stroke-width="1.9"/>
<rect x="324.2" y="170.5" width="3.9" height="3.9" rx="1.2" fill="#00ff00" stroke="#00ff00" stroke-width="1.9"/>
<rect x="323.0" y="173.7" width="3.9" height="3.9" rx="1.2" fill="#00ff00" stroke="#00ff00" stroke-width="1.9"/>
<rect x="321.7" y="176.8" width="3.9" height="3.9" rx="1.2" fill="#00ff00" stroke="#00ff00" stroke-width="1.9"/>
<rect x="320.5" y="180.0" width="3.9" height="3.9" rx="1.2" fill="#00ff00" stroke="#00ff00" stroke-width="1.9"/>
<rect x="319.2" y="183.2" width="3.9" height="3.9" rx="1.2" fill="#00ff00" stroke="#00ff00" stroke-width="1.9"/>
<rect x="318.0" y="186.3" width="3.9" height="3.9" rx="1.2" fill="#00ff00" stroke="#00ff00" stroke-width="1.9"/>
<rect x="316.8" y="189.5" width="3.9" height="3.9" rx="1.2" fill="#00ff00" stroke="#00ff00" stroke-width="1.9"/>
<rect x="315.4" y="192.6" width="3.9" height="3.9" rx="1.2" fill="#00ff00" stroke="#00ff00" stroke-width="1.9"/>
<rect x="314.0" y="195.7" width="3.9" height="3.9" rx="1.2" fill="#00ff00" stroke="#00ff00" stroke-width="1.9"/>
<rect x="312.5" y="198.8" width="3.9" height="3.9" rx="1.2" fill="#00ff00" stroke="#00ff00" stroke-width="1.9"/>
<rect x="311.1" y="201.8" width="3.9" height="3.9" rx="1.2" fill="#00ff00" stroke="#00ff00" stroke-width="1.9"/>
<rect x="309.7" y="204.9" width="3.9" height="3.9" rx="1.2" fill="#00ff00" stroke="#00ff00" stroke-width="1.9"/>
<rect x="308.2" y="208.0" width="3.9" height="3.9" rx="1.2" fill="#00ff00" stroke="#00ff00" stroke-width="1.9"/>
<rect x="306.8" y="211.1" width="3.9" height="3.9" rx="1.2" fill="#00ff00" stroke="#00ff00" stroke-width="1.9"/>
<rect x="305.4" y="214.2" width="3.9" height="3.9" rx="1.2" fill="#00ff00" stroke="#00ff00" stroke-width="1.9"/>
<rect x="304.0" y="217.3" width="3.9" height="3.9" rx="1.2" fill="#00ff00" stroke="#00ff00" stroke-width="1.9"/>
<rect x="302.5" y="220.4" width="3.9" height="3.9" rx="1.2" fill="#00ff00" stroke="#00ff00" stroke-width="1.9"/>
<rect x="301.1" y="223.4" width="3.9" height="3.9" rx="1.2" fill="#00ff00" stroke="#00ff00" stroke-width="1.9"/>
<rect x="299.7" y="226.5" width="3.9" height="3.9" rx="1.2" fill="#00ff00" stroke="#00ff00" stroke-width="1.9"/>
<rect x="298.2" y="229.6" width="3.9" height="3.9" rx="1.2" fill="#00ff00" stroke="#00ff00" stroke-width="1.9"/>
<path d="M224.9,227.9a1.1,1.1 0 1,0 2.2,0a1.1,1.1 0 1,0 -2.2,0M226.9,225.2a1.1,1.1 0 1,0 2.2,0a1.1,1.1 0 1,0 -2.2,0M228.9,222.4a1.1,1.1 0 1,0 2.2,0a1.1,1.1 0 1,0 -2.2,0M231.0,219.7a1.1,1.1 0 1,0 2.2,0a1.1,1.1 0 1,0 -2.2,0M233.0,217.0a1.1,1.1 0 1,0 2.2,0a1.1,1.1 0 1,0 -2.2,0M235.0,214.2a1.1,1.1 0 1,0 2.2,0a1.1,1.1 0 1,0 -2.2,0M237.0,211.5a1.1,1.1 0 1,0 2.2,0a1.1,1.1 0 1,0 -2.2,0M239.1,208.8a1.1,1.1 0 1,0 2.2,0a1.1,1.1 0 1,0 -2.2,0M241.1,206.1a1.1,1.1 0 1,0 2.2,0a1.1,1.1 0 1,0 -2.2,0M243.1,203.3a1.1,1.1 0 1,0 2.2,0a1.1,1.1 0 1,0 -2.2,0M245.1,200.6a1.1,1.1 0 1,0 2.2,0a1.1,1.1 0 1,0 -2.2,0M247.2,197.9a1.1,1.1 0 1,0 2.2,0a1.1,1.1 0 1,0 -2.2,0M248.9,195.0a1.1,1.1 0 1,0 2.2,0a1.1,1.1 0 1,0 -2.2,0M250.6,192.0a1.1,1.1 0 1,0 2.2,0a1.1,1.1 0 1,0 -2.2,0M252.3,189.1a1.1,1.1 0 1,0 2.2,0a1.1,1.1 0 1,0 -2.2,0M254.1,186.1a1.1,1.1 0 1,0 2.2,0a1.1,1.1 0 1,0 -2.2,0M227.5,227.7a1.1,1.1 0 1,0 2.2,0a1.1,1.1 0 1,0 -2.2,0M229.5,225.0a1.1,1.1 0 1,0 2.2,0a1.1,1.1 0 1,0 -2.2,0M231.6,222.3a1.1,1.1 0 1,0 2.2,0a1.1,1.1 0 1,0 -2.2,0M233.6,219.5a1.1,1.1 0 1,0 2.2,0a1.1,1.1 0 1,0 -2.2,0M235.6,216.8a1.1,1.1 0 1,0 2.2,0a1.1,1.1 0 1,0 -2.2,0M237.6,214.1a1.1,1.1 0 1,0 2.2,0a1.1,1.1 0 1,0 -2.2,0M239.7,211.3a1.1,1.1 0 1,0 2.2,0a1.1,1.1 0 1,0 -2.2,0M241.7,208.6a1.1,1.1 0 1,0 2.2,0a1.1,1.1 0 1,0 -2.2,0M243.7,205.9a1.1,1.1 0 1,0 2.2,0a1.1,1.1 0 1,0 -2.2,0M245.7,203.1a1.1,1.1 0 1,0 2.2,0a1.1,1.1 0 1,0 -2.2,0M247.8,200.4a1.1,1.1 0 1,0 2.2,0a1.1,1.1 0 1,0 -2.2,0M249.7,197.6a1.1,1.1 0 1,0 2.2,0a1.1,1.1 0 1,0 -2.2,0M251.4,194.7a1.1,1.1 0 1,0 2.2,0a1.1,1.1 0 1,0 -2.2,0M253.1,191.7a1.1,1.1 0 1,0 2.2,0a1.1,1.1 0 1,0 -2.2,0M254.8,188.8a1.1,1.1 0 1,0 2.2,0a1.1,1.1 0 1,0 -2.2,0M254.0,185.2a1.1,1.1 0 1,0 2.2,0a1.1,1.1 0 1,0 -2.2,0M255.6,182.3a1.1,1.1 0 1,0 2.2,0a1.1,1.1 0 1,0 -2.2,0M257.3,179.3a1.1,1.1 0 1,0 2.2,0a1.1,1.1 0 1,0 -2.2,0M259.5,176.7a1.1,1.1 0 1,0 2.2,0a1.1,1.1 0 1,0 -2.2,0M261.7,174.2a1.1,1.1 0 1,0 2.2,0a1.1,1.1 0 1,0 -2.2,0M264.0,171.6a1.1,1.1 0 1,0 2.2,0a1.1,1.1 0 1,0 -2.2,0M266.2,169.0a1.1,1.1 0 1,0 2.2,0a1.1,1.1 0 1,0 -2.2,0M268.4,166.5a1.1,1.1 0 1,0 2.2,0a1.1,1.1 0 1,0 -2.2,0M270.5,163.8a1.1,1.1 0 1,0 2.2,0a1.1,1.1 0 1,0 -2.2,0M272.1,160.8a1.1,1.1 0 1,0 2.2,0a1.1,1.1 0 1,0 -2.2,0M273.7,157.8a1.1,1.1 0 1,0 2.2,0a1.1,1.1 0 1,0 -2.2,0M275.4,154.8a1.1,1.1 0 1,0 2.2,0a1.1,1.1 0 1,0 -2.2,0M277.3,152.0a1.1,1.1 0 1,0 2.2,0a1.1,1.1 0 1,0 -2.2,0M279.1,149.2a1.1,1.1 0 1,0 2.2,0a1.1,1.1 0 1,0 -2.2,0M281.0,146.3a1.1,1.1 0 1,0 2.2,0a1.1,1.1 0 1,0 -2.2,0M282.9,143.5a1.1,1.1 0 1,0 2.2,0a1.1,1.1 0 1,0 -2.2,0M284.8,140.7a1.1,1.1 0 1,0 2.2,0a1.1,1.1 0 1,0 -2.2,0M286.7,137.9a1.1,1.1 0 1,0 2.2,0a1.1,1.1 0 1,0 -2.2,0M288.6,135.0a1.1,1.1 0 1,0 2.2,0a1.1,1.1 0 1,0 -2.2,0M290.4,132.2a1.1,1.1 0 1,0 2.2,0a1.1,1.1 0 1,0 -2.2,0M292.5,129.5a1.1,1.1 0 1,0 2.2,0a1.1,1.1 0 1,0 -2.2,0M294.5,126.7a1.1,1.1 0 1,0 2.2,0a1.1,1.1 0 1,0 -2.2,0M296.5,124.0a1.1,1.1 0 1,0 2.2,0a1.1,1.1 0 1,0 -2.2,0M257.5,185.3a1.1,1.1 0 1,0 2.2,0a1.1,1.1 0 1,0 -2.2,0M259.2,182.3a1.1,1.1 0 1,0 2.2,0a1.1,1.1 0 1,0 -2.2,0M261.1,179.6a1.1,1.1 0 1,0 2.2,0a1.1,1.1 0 1,0 -2.2,0M263.4,177.0a1.1,1.1 0 1,0 2.2,0a1.1,1.1 0 1,0 -2.2,0M265.6,174.5a1.1,1.1 0 1,0 2.2,0a1.1,1.1 0 1,0 -2.2,0M267.8,171.9a1.1,1.1 0 1,0 2.2,0a1.1,1.1 0 1,0 -2.2,0M270.1,169.3a1.1,1.1 0 1,0 2.2,0a1.1,1.1 0 1,0 -2.2,0M272.3,166.8a1.1,1.1 0 1,0 2.2,0a1.1,1.1 0 1,0 -2.2,0M273.9,163.8a1.1,1.1 0 1,0 2.2,0a1.1,1.1 0 1,0 -2.2,0M275.6,160.8a1.1,1.1 0 1,0 2.2,0a1.1,1.1 0 1,0 -2.2,0M277.2,157.8a1.1,1.1 0 1,0 2.2,0a1.1,1.1 0 1,0 -2.2,0M279.0,155.0a1.1,1.1 0 1,0 2.2,0a1.1,1.1 0 1,0 -2.2,0M280.9,152.1a1.1,1.1 0 1,0 2.2,0a1.1,1.1 0 1,0 -2.2,0M282.8,149.3a1.1,1.1 0 1,0 2.2,0a1.1,1.1 0 1,0 -2.2,0M284.7,146.5a1.1,1.1 0 1,0 2.2,0a1.1,1.1 0 1,0 -2.2,0M286.6,143.6a1.1,1.1 0 1,0 2.2,0a1.1,1.1 0 1,0 -2.2,0M288.4,140.8a1.1,1.1 0 1,0 2.2,0a1.1,1.1 0 1,0 -2.2,0M290.3,138.0a1.1,1.1 0 1,0 2.2,0a1.1,1.1 0 1,0 -2.2,0M292.2,135.1a1.1,1.1 0 1,0 2.2,0a1.1,1.1 0 1,0 -2.2,0M294.2,132.4a1.1,1.1 0 1,0 2.2,0a1.1,1.1 0 1,0 -2.2,0M296.2,129.6a1.1,1.1 0 1,0 2.2,0a1.1,1.1 0 1,0 -2.2,0M298.2,126.9a1.1,1.1 0 1,0 2.2,0a1.1,1.1 0 1,0 -2.2,0M297.4,123.3a1.1,1.1 0 1,0 2.2,0a1.1,1.1 0 1,0 -2.2,0M299.3,120.4a1.1,1.1 0 1,0 2.2,0a1.1,1.1 0 1,0 -2.2,0M301.1,117.6a1.1,1.1 0 1,0 2.2,0a1.1,1.1 0 1,0 -2.2,0M302.9,114.7a1.1,1.1 0 1,0 2.2,0a1.1,1.1 0 1,0 -2.2,0M304.8,111.9a1.1,1.1 0 1,0 2.2,0a1.1,1.1 0 1,0 -2.2,0M306.6,109.0a1.1,1.1 0 1,0 2.2,0a1.1,1.1 0 1,0 -2.2,0M308.5,106.2a1.1,1.1 0 1,0 2.2,0a1.1,1.1 0 1,0 -2.2,0M310.3,103.3a1.1,1.1 0 1,0 2.2,0a1.1,1.1 0 1,0 -2.2,0M312.2,100.5a1.1,1.1 0 1,0 2.2,0a1.1,1.1 0 1,0 -2.2,0M314.0,97.6a1.1,1.1 0 1,0 2.2,0a1.1,1.1 0 1,0 -2.2,0M315.9,94.7a1.1,1.1 0 1,0 2.2,0a1.1,1.1 0 1,0 -2.2,0M317.7,91.9a1.1,1.1 0 1,0 2.2,0a1.1,1.1 0 1,0 -2.2,0M300.5,123.3a1.1,1.1 0 1,0 2.2,0a1.1,1.1 0 1,0 -2.2,0M302.4,120.4a1.1,1.1 0 1,0 2.2,0a1.1,1.1 0 1,0 -2.2,0M304.2,117.6a1.1,1.1 0 1,0 2.2,0a1.1,1.1 0 1,0 -2.2,0M306.1,114.7a1.1,1.1 0 1,0 2.2,0a1.1,1.1 0 1,0 -2.2,0M307.9,111.9a1.1,1.1 0 1,0 2.2,0a1.1,1.1 0 1,0 -2.2,0M309.8,109.0a1.1,1.1 0 1,0 2.2,0a1.1,1.1 0 1,0 -2.2,0M311.6,106.2a1.1,1.1 0 1,0 2.2,0a1.1,1.1 0 1,0 -2.2,0M313.4,103.3a1.1,1.1 0 1,0 2.2,0a1.1,1.1 0 1,0 -2.2,0M315.3,100.4a1.1,1.1 0 1,0 2.2,0a1.1,1.1 0 1,0 -2.2,0M317.1,97.6a1.1,1.1 0 1,0 2.2,0a1.1,1.1 0 1,0 -2.2,0M319.0,94.7a1.1,1.1 0 1,0 2.2,0a1.1,1.1 0 1,0 -2.2,0M320.8,91.9a1.1,1.1 0 1,0 2.2,0a1.1,1.1 0 1,0 -2.2,0M319.7,89.4a1.1,1.1 0 1,0 2.2,0a1.1,1.1 0 1,0 -2.2,0M321.5,86.6a1.1,1.1 0 1,0 2.2,0a1.1,1.1 0 1,0 -2.2,0M323.4,83.8a1.1,1.1 0 1,0 2.2,0a1.1,1.1 0 1,0 -2.2,0M325.3,80.9a1.1,1.1 0 1,0 2.2,0a1.1,1.1 0 1,0 -2.2,0M327.2,78.1a1.1,1.1 0 1,0 2.2,0a1.1,1.1 0 1,0 -2.2,0M329.0,75.3a1.1,1.1 0 1,0 2.2,0a1.1,1.1 0 1,0 -2.2,0M330.9,72.4a1.1,1.1 0 1,0 2.2,0a1.1,1.1 0 1,0 -2.2,0M332.8,69.6a1.1,1.1 0 1,0 2.2,0a1.1,1.1 0 1,0 -2.2,0M334.7,66.8a1.1,1.1 0 1,0 2.2,0a1.1,1.1 0 1,0 -2.2,0M336.5,63.9a1.1,1.1 0 1,0 2.2,0a1.1,1.1 0 1,0 -2.2,0M338.4,61.1a1.1,1.1 0 1,0 2.2,0a1.1,1.1 0 1,0 -2.2,0M340.3,58.2a1.1,1.1 0 1,0 2.2,0a1.1,1.1 0 1,0 -2.2,0M342.2,55.4a1.1,1.1 0 1,0 2.2,0a1.1,1.1 0 1,0 -2.2,0M344.0,52.6a1.1,1.1 0 1,0 2.2,0a1.1,1.1 0 1,0 -2.2,0M345.9,49.7a1.1,1.1 0 1,0 2.2,0a1.1,1.1 0 1,0 -2.2,0M347.8,46.9a1.1,1.1 0 1,0 2.2,0a1.1,1.1 0 1,0 -2.2,0M349.7,44.1a1.1,1.1 0 1,0 2.2,0a1.1,1.1 0 1,0 -2.2,0M351.5,41.2a1.1,1.1 0 1,0 2.2,0a1.1,1.1 0 1,0 -2.2,0M322.3,89.1a1.1,1.1 0 1,0 2.2,0a1.1,1.1 0 1,0 -2.2,0M324.1,86.3a1.1,1.1 0 1,0 2.2,0a1.1,1.1 0 1,0 -2.2,0M326.0,83.5a1.1,1.1 0 1,0 2.2,0a1.1,1.1 0 1,0 -2.2,0M327.9,80.6a1.1,1.1 0 1,0 2.2,0a1.1,1.1 0 1,0 -2.2,0M329.8,77.8a1.1,1.1 0 1,0 2.2,0a1.1,1.1 0 1,0 -2.2,0M331.6,74.9a1.1,1.1 0 1,0 2.2,0a1.1,1.1 0 1,0 -2.2,0M333.5,72.1a1.1,1.1 0 1,0 2.2,0a1.1,1.1 0 1,0 -2.2,0M335.4,69.3a1.1,1.1 0 1,0 2.2,0a1.1,1.1 0 1,0 -2.2,0M337.3,66.4a1.1,1.1 0 1,0 2.2,0a1.1,1.1 0 1,0 -2.2,0M339.1,63.6a1.1,1.1 0 1,0 2.2,0a1.1,1.1 0 1,0 -2.2,0M341.0,60.8a1.1,1.1 0 1,0 2.2,0a1.1,1.1 0 1,0 -2.2,0M342.9,57.9a1.1,1.1 0 1,0 2.2,0a1.1,1.1 0 1,0 -2.2,0M344.8,55.1a1.1,1.1 0 1,0 2.2,0a1.1,1.1 0 1,0 -2.2,0M346.6,52.3a1.1,1.1 0 1,0 2.2,0a1.1,1.1 0 1,0 -2.2,0M348.5,49.4a1.1,1.1 0 1,0 2.2,0a1.1,1.1 0 1,0 -2.2,0M350.4,46.6a1.1,1.1 0 1,0 2.2,0a1.1,1.1 0 1,0 -2.2,0M352.3,43.7a1.1,1.1 0 1,0 2.2,0a1.1,1.1 0 1,0 -2.2,0M352.8,40.3a1.1,1.1 0 1,0 2.2,0a1.1,1.1 0 1,0 -2.2,0M355.1,37.8a1.1,1.1 0 1,0 2.2,0a1.1,1.1 0 1,0 -2.2,0M356.5,34.8a1.1,1.1 0 1,0 2.2,0a1.1,1.1 0 1,0 -2.2,0M359.8,34.0a1.1,1.1 0 1,0 2.2,0a1.1,1.1 0 1,0 -2.2,0M362.9,33.2a1.1,1.1 0 1,0 2.2,0a1.1,1.1 0 1,0 -2.2,0M365.7,35.0a1.1,1.1 0 1,0 2.2,0a1.1,1.1 0 1,0 -2.2,0M368.9,36.0a1.1,1.1 0 1,0 2.2,0a1.1,1.1 0 1,0 -2.2,0M371.3,38.4a1.1,1.1 0 1,0 2.2,0a1.1,1.1 0 1,0 -2.2,0M374.5,39.5a1.1,1.1 0 1,0 2.2,0a1.1,1.1 0 1,0 -2.2,0M376.6,42.2a1.1,1.1 0 1,0 2.2,0a1.1,1.1 0 1,0 -2.2,0M379.8,43.5a1.1,1.1 0 1,0 2.2,0a1.1,1.1 0 1,0 -2.2,0M381.7,45.9a1.1,1.1 0 1,0 2.2,0a1.1,1.1 0 1,0 -2.2,0M380.8,48.9a1.1,1.1 0 1,0 2.2,0a1.1,1.1 0 1,0 -2.2,0M378.5,51.4a1.1,1.1 0 1,0 2.2,0a1.1,1.1 0 1,0 -2.2,0M377.6,54.7a1.1,1.1 0 1,0 2.2,0a1.1,1.1 0 1,0 -2.2,0M375.3,57.2a1.1,1.1 0 1,0 2.2,0a1.1,1.1 0 1,0 -2.2,0M374.4,60.5a1.1,1.1 0 1,0 2.2,0a1.1,1.1 0 1,0 -2.2,0M372.1,63.0a1.1,1.1 0 1,0 2.2,0a1.1,1.1 0 1,0 -2.2,0M372.6,65.2a1.1,1.1 0 1,0 2.2,0a1.1,1.1 0 1,0 -2.2,0M371.2,68.3a1.1,1.1 0 1,0 2.2,0a1.1,1.1 0 1,0 -2.2,0M369.9,71.5a1.1,1.1 0 1,0 2.2,0a1.1,1.1 0 1,0 -2.2,0M368.5,74.6a1.1,1.1 0 1,0 2.2,0a1.1,1.1 0 1,0 -2.2,0M367.2,77.7a1.1,1.1 0 1,0 2.2,0a1.1,1.1 0 1,0 -2.2,0M365.8,80.8a1.1,1.1 0 1,0 2.2,0a1.1,1.1 0 1,0 -2.2,0M364.5,83.9a1.1,1.1 0 1,0 2.2,0a1.1,1.1 0 1,0 -2.2,0M363.1,87.1a1.1,1.1 0 1,0 2.2,0a1.1,1.1 0 1,0 -2.2,0M361.8,90.2a1.1,1.1 0 1,0 2.2,0a1.1,1.1 0 1,0 -2.2,0M360.4,93.3a1.1,1.1 0 1,0 2.2,0a1.1,1.1 0 1,0 -2.2,0M359.1,96.4a1.1,1.1 0 1,0 2.2,0a1.1,1.1 0 1,0 -2.2,0M357.7,99.5a1.1,1.1 0 1,0 2.2,0a1.1,1.1 0 1,0 -2.2,0M356.3,102.6a1.1,1.1 0 1,0 2.2,0a1.1,1.1 0 1,0 -2.2,0M354.9,105.7a1.1,1.1 0 1,0 2.2,0a1.1,1.1 0 1,0 -2.2,0M353.5,108.8a1.1,1.1 0 1,0 2.2,0a1.1,1.1 0 1,0 -2.2,0M352.1,111.9a1.1,1.1 0 1,0 2.2,0a1.1,1.1 0 1,0 -2.2,0M350.7,115.0a1.1,1.1 0 1,0 2.2,0a1.1,1.1 0 1,0 -2.2,0M349.4,118.1a1.1,1.1 0 1,0 2.2,0a1.1,1.1 0 1,0 -2.2,0M348.0,121.3a1.1,1.1 0 1,0 2.2,0a1.1,1.1 0 1,0 -2.2,0M346.6,124.4a1.1,1.1 0 1,0 2.2,0a1.1,1.1 0 1,0 -2.2,0M345.2,127.5a1.1,1.1 0 1,0 2.2,0a1.1,1.1 0 1,0 -2.2,0M343.8,130.6a1.1,1.1 0 1,0 2.2,0a1.1,1.1 0 1,0 -2.2,0M342.6,133.7a1.1,1.1 0 1,0 2.2,0a1.1,1.1 0 1,0 -2.2,0M341.3,136.9a1.1,1.1 0 1,0 2.2,0a1.1,1.1 0 1,0 -2.2,0M340.1,140.1a1.1,1.1 0 1,0 2.2,0a1.1,1.1 0 1,0 -2.2,0M338.8,143.2a1.1,1.1 0 1,0 2.2,0a1.1,1.1 0 1,0 -2.2,0M337.6,146.4a1.1,1.1 0 1,0 2.2,0a1.1,1.1 0 1,0 -2.2,0M336.3,149.6a1.1,1.1 0 1,0 2.2,0a1.1,1.1 0 1,0 -2.2,0M335.1,152.7a1.1,1.1 0 1,0 2.2,0a1.1,1.1 0 1,0 -2.2,0M333.8,155.9a1.1,1.1 0 1,0 2.2,0a1.1,1.1 0 1,0 -2.2,0M332.6,159.0a1.1,1.1 0 1,0 2.2,0a1.1,1.1 0 1,0 -2.2,0M331.4,162.2a1.1,1.1 0 1,0 2.2,0a1.1,1.1 0 1,0 -2.2,0M330.1,165.4a1.1,1.1 0 1,0 2.2,0a1.1,1.1 0 1,0 -2.2,0M328.9,168.5a1.1,1.1 0 1,0 2.2,0a1.1,1.1 0 1,0 -2.2,0M327.6,171.7a1.1,1.1 0 1,0 2.2,0a1.1,1.1 0 1,0 -2.2,0M326.4,174.9a1.1,1.1 0 1,0 2.2,0a1.1,1.1 0 1,0 -2.2,0M325.1,178.0a1.1,1.1 0 1,0 2.2,0a1.1,1.1 0 1,0 -2.2,0M323.9,181.2a1.1,1.1 0 1,0 2.2,0a1.1,1.1 0 1,0 -2.2,0M322.6,184.4a1.1,1.1 0 1,0 2.2,0a1.1,1.1 0 1,0 -2.2,0M321.4,187.5a1.1,1.1 0 1,0 2.2,0a1.1,1.1 0 1,0 -2.2,0M320.2,190.7a1.1,1.1 0 1,0 2.2,0a1.1,1.1 0 1,0 -2.2,0M318.9,193.8a1.1,1.1 0 1,0 2.2,0a1.1,1.1 0 1,0 -2.2,0M317.5,196.9a1.1,1.1 0 1,0 2.2,0a1.1,1.1 0 1,0 -2.2,0M316.0,200.0a1.1,1.1 0 1,0 2.2,0a1.1,1.1 0 1,0 -2.2,0M314.6,203.1a1.1,1.1 0 1,0 2.2,0a1.1,1.1 0 1,0 -2.2,0M313.2,206.2a1.1,1.1 0 1,0 2.2,0a1.1,1.1 0 1,0 -2.2,0M311.7,209.3a1.1,1.1 0 1,0 2.2,0a1.1,1.1 0 1,0 -2.2,0M310.3,212.3a1.1,1.1 0 1,0 2.2,0a1.1,1.1 0 1,0 -2.2,0M308.9,215.4a1.1,1.1 0 1,0 2.2,0a1.1,1.1 0 1,0 -2.2,0M307.5,218.5a1.1,1.1 0 1,0 2.2,0a1.1,1.1 0 1,0 -2.2,0M306.0,221.6a1.1,1.1 0 1,0 2.2,0a1.1,1.1 0 1,0 -2.2,0M304.6,224.7a1.1,1.1 0 1,0 2.2,0a1.1,1.1 0 1,0 -2.2,0M303.2,227.8a1.1,1.1 0 1,0 2.2,0a1.1,1.1 0 1,0 -2.2,0M301.7,230.9a1.1,1.1 0 1,0 2.2,0a1.1,1.1 0 1,0 -2.2,0M370.0,65.9a1.1,1.1 0 1,0 2.2,0a1.1,1.1 0 1,0 -2.2,0M368.6,69.1a1.1,1.1 0 1,0 2.2,0a1.1,1.1 0 1,0 -2.2,0M367.3,72.2a1.1,1.1 0 1,0 2.2,0a1.1,1.1 0 1,0 -2.2,0M365.9,75.3a1.1,1.1 0 1,0 2.2,0a1.1,1.1 0 1,0 -2.2,0M364.6,78.4a1.1,1.1 0 1,0 2.2,0a1.1,1.1 0 1,0 -2.2,0M363.2,81.5a1.1,1.1 0 1,0 2.2,0a1.1,1.1 0 1,0 -2.2,0M361.9,84.7a1.1,1.1 0 1,0 2.2,0a1.1,1.1 0 1,0 -2.2,0M360.5,87.8a1.1,1.1 0 1,0 2.2,0a1.1,1.1 0 1,0 -2.2,0M359.2,90.9a1.1,1.1 0 1,0 2.2,0a1.1,1.1 0 1,0 -2.2,0M357.8,94.0a1.1,1.1 0 1,0 2.2,0a1.1,1.1 0 1,0 -2.2,0M356.4,97.1a1.1,1.1 0 1,0 2.2,0a1.1,1.1 0 1,0 -2.2,0M355.1,100.2a1.1,1.1 0 1,0 2.2,0a1.1,1.1 0 1,0 -2.2,0M353.7,103.4a1.1,1.1 0 1,0 2.2,0a1.1,1.1 0 1,0 -2.2,0M352.3,106.5a1.1,1.1 0 1,0 2.2,0a1.1,1.1 0 1,0 -2.2,0M350.9,109.6a1.1,1.1 0 1,0 2.2,0a1.1,1.1 0 1,0 -2.2,0M349.5,112.7a1.1,1.1 0 1,0 2.2,0a1.1,1.1 0 1,0 -2.2,0M348.1,115.8a1.1,1.1 0 1,0 2.2,0a1.1,1.1 0 1,0 -2.2,0M346.7,118.9a1.1,1.1 0 1,0 2.2,0a1.1,1.1 0 1,0 -2.2,0M345.3,122.0a1.1,1.1 0 1,0 2.2,0a1.1,1.1 0 1,0 -2.2,0M344.0,125.1a1.1,1.1 0 1,0 2.2,0a1.1,1.1 0 1,0 -2.2,0M342.6,128.2a1.1,1.1 0 1,0 2.2,0a1.1,1.1 0 1,0 -2.2,0M341.3,131.3a1.1,1.1 0 1,0 2.2,0a1.1,1.1 0 1,0 -2.2,0M340.0,134.5a1.1,1.1 0 1,0 2.2,0a1.1,1.1 0 1,0 -2.2,0M338.8,137.6a1.1,1.1 0 1,0 2.2,0a1.1,1.1 0 1,0 -2.2,0M337.5,140.8a1.1,1.1 0 1,0 2.2,0a1.1,1.1 0 1,0 -2.2,0M336.3,144.0a1.1,1.1 0 1,0 2.2,0a1.1,1.1 0 1,0 -2.2,0M335.0,147.1a1.1,1.1 0 1,0 2.2,0a1.1,1.1 0 1,0 -2.2,0M333.8,150.3a1.1,1.1 0 1,0 2.2,0a1.1,1.1 0 1,0 -2.2,0M332.5,153.5a1.1,1.1 0 1,0 2.2,0a1.1,1.1 0 1,0 -2.2,0M331.3,156.6a1.1,1.1 0 1,0 2.2,0a1.1,1.1 0 1,0 -2.2,0M330.1,159.8a1.1,1.1 0 1,0 2.2,0a1.1,1.1 0 1,0 -2.2,0M328.8,163.0a1.1,1.1 0 1,0 2.2,0a1.1,1.1 0 1,0 -2.2,0M327.6,166.1a1.1,1.1 0 1,0 2.2,0a1.1,1.1 0 1,0 -2.2,0M326.3,169.3a1.1,1.1 0 1,0 2.2,0a1.1,1.1 0 1,0 -2.2,0M325.1,172.4a1.1,1.1 0 1,0 2.2,0a1.1,1.1 0 1,0 -2.2,0M323.8,175.6a1.1,1.1 0 1,0 2.2,0a1.1,1.1 0 1,0 -2.2,0M322.6,178.8a1.1,1.1 0 1,0 2.2,0a1.1,1.1 0 1,0 -2.2,0M321.3,181.9a1.1,1.1 0 1,0 2.2,0a1.1,1.1 0 1,0 -2.2,0M320.1,185.1a1.1,1.1 0 1,0 2.2,0a1.1,1.1 0 1,0 -2.2,0M318.9,188.3a1.1,1.1 0 1,0 2.2,0a1.1,1.1 0 1,0 -2.2,0M317.6,191.4a1.1,1.1 0 1,0 2.2,0a1.1,1.1 0 1,0 -2.2,0M316.2,194.5a1.1,1.1 0 1,0 2.2,0a1.1,1.1 0 1,0 -2.2,0M314.8,197.6a1.1,1.1 0 1,0 2.2,0a1.1,1.1 0 1,0 -2.2,0M313.4,200.7a1.1,1.1 0 1,0 2.2,0a1.1,1.1 0 1,0 -2.2,0M312.0,203.8a1.1,1.1 0 1,0 2.2,0a1.1,1.1 0 1,0 -2.2,0M310.5,206.9a1.1,1.1 0 1,0 2.2,0a1.1,1.1 0 1,0 -2.2,0M309.1,210.0a1.1,1.1 0 1,0 2.2,0a1.1,1.1 0 1,0 -2.2,0M307.7,213.1a1.1,1.1 0 1,0 2.2,0a1.1,1.1 0 1,0 -2.2,0M306.2,216.1a1.1,1.1 0 1,0 2.2,0a1.1,1.1 0 1,0 -2.2,0M304.8,219.2a1.1,1.1 0 1,0 2.2,0a1.1,1.1 0 1,0 -2.2,0M303.4,222.3a1.1,1.1 0 1,0 2.2,0a1.1,1.1 0 1,0 -2.2,0M302.0,225.4a1.1,1.1 0 1,0 2.2,0a1.1,1.1 0 1,0 -2.2,0M300.5,228.5a1.1,1.1 0 1,0 2.2,0a1.1,1.1 0 1,0 -2.2,0M299.1,231.6a1.1,1.1 0 1,0 2.2,0a1.1,1.1 0 1,0 -2.2,0" fill="#aaffaa"/>
</g>
<g font-family="'Liberation Sans', Arial, sans-serif" font-size="12.4" fill="#111" stroke="#111" stroke-width="0.35">
<text x="68.8" y="281.4" text-anchor="middle">-60</text>
<text x="115.4" y="281.4" text-anchor="middle">-50</text>
<text x="162.1" y="281.4" text-anchor="middle">-40</text>
<text x="208.8" y="281.4" text-anchor="middle">-30</text>
<text x="255.4" y="281.4" text-anchor="middle">-20</text>
<text x="302.1" y="281.4" text-anchor="middle">-10</text>
<text x="348.7" y="281.4" text-anchor="middle">0</text>
<text x="44.1" y="254.9" text-anchor="end">-40</text>
<text x="44.1" y="231.5" text-anchor="end">-35</text>
<text x="44.1" y="208.2" text-anchor="end">-30</text>
<text x="44.1" y="184.8" text-anchor="end">-25</text>
<text x="44.1" y="161.5" text-anchor="end">-20</text>
<text x="44.1" y="138.2" text-anchor="end">-15</text>
<text x="44.1" y="114.8" text-anchor="end">-10</text>
<text x="44.1" y="91.5" text-anchor="end">-5</text>
<text x="44.1" y="68.1" text-anchor="end">0</text>
<text x="44.1" y="44.8" text-anchor="end">5</text>
<text x="44.1" y="21.4" text-anchor="end">10</text>
</g>
<g font-family="'Liberation Serif', 'Times New Roman', serif" font-size="15" fill="#111" stroke="#111" stroke-width="0.3">
<text transform="translate(209.3,301) scale(1,1.06)" text-anchor="middle">Easting [meters]</text>
<text transform="translate(12.2,127.9) rotate(-90)" text-anchor="middle" font-size="15.4">Northing [meters]</text>
</g>
<rect x="68.9" y="12.75" width="133.6" height="70.25" fill="#fff" stroke="#111" stroke-width="1.3"/>
<line x1="75" y1="22.9" x2="105.8" y2="22.9" stroke="#111" stroke-width="2"/>
<line x1="75" y1="39.8" x2="105.8" y2="39.8" stroke="#0000ff" stroke-width="1.9"/>
<path d="M88.2,37.6L92.6,42.0M88.2,42.0L92.6,37.6" stroke="#0000ff" stroke-width="1.3" fill="none"/>
<line x1="75" y1="56.6" x2="105.8" y2="56.6" stroke="#ff00ff" stroke-width="1.9"/>
<circle cx="90.4" cy="56.6" r="3" fill="none" stroke="#ff00ff" stroke-width="1.5"/>
<line x1="75" y1="73.1" x2="105.8" y2="73.1" stroke="#00ff00" stroke-width="2.2"/>
<rect x="87.8" y="70.5" width="5.2" height="5.2" rx="1.2" fill="#b4ffb4" stroke="#00ff00" stroke-width="2.2"/>
<g font-family="'Liberation Serif', 'Times New Roman', serif" font-size="12.9" fill="#111" stroke="#111" stroke-width="0.3">
<text transform="translate(109.8,27.4) scale(1,1.1)">SPAN reference</text>
<text transform="translate(109.8,44.3) scale(1,1.1)">GPS</text>
<text transform="translate(109.8,61.1) scale(1,1.1)">WLAN</text>
<text transform="translate(109.8,77.6) scale(1,1.1)">Fused Model VA</text>
</g>
</svg>
</body></html>
